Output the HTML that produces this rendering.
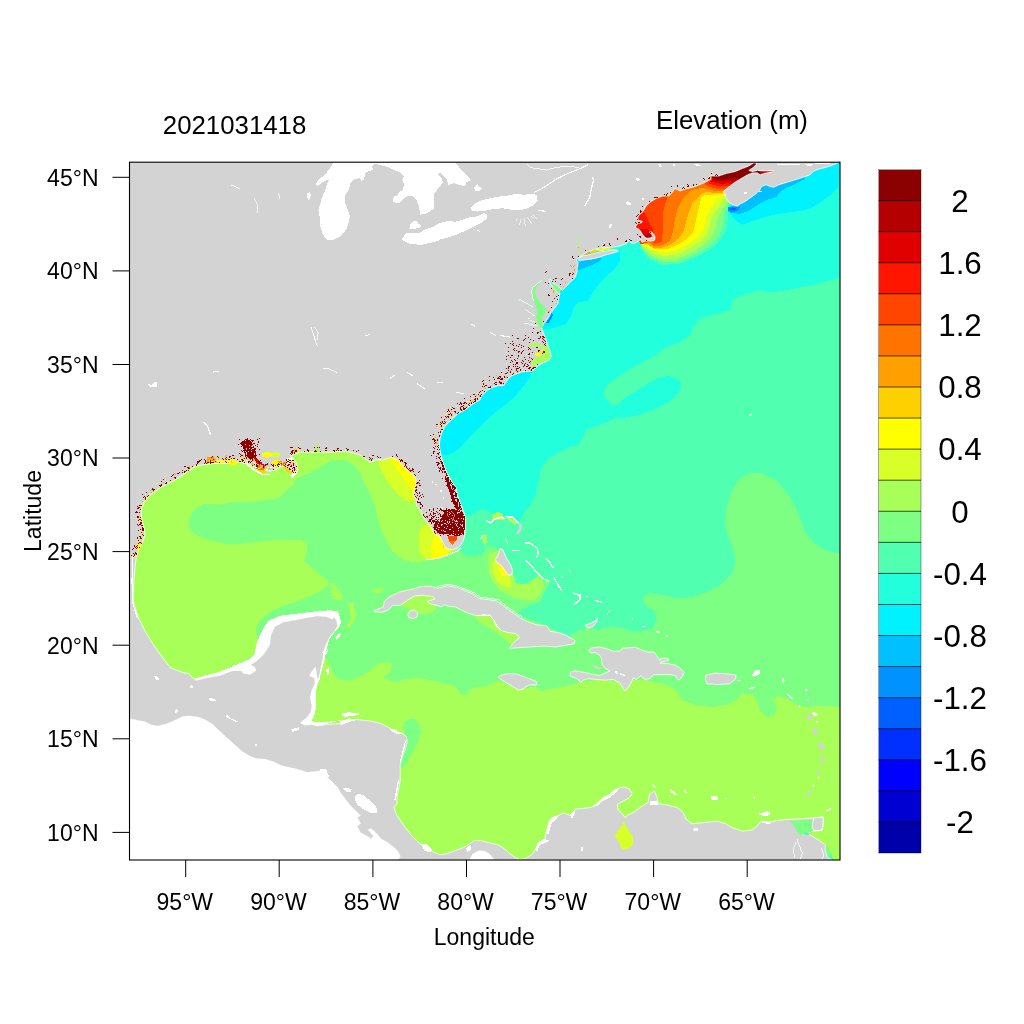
<!DOCTYPE html><html><head><meta charset="utf-8"><title>Elevation map</title>
<style>html,body{margin:0;padding:0;background:#fff}svg{display:block}text{font-family:"Liberation Sans",Arial,Helvetica,sans-serif;fill:#000}</style></head><body>
<svg width="1024" height="1024" viewBox="0 0 1024 1024">
<rect width="1024" height="1024" fill="#fff"/>
<defs><clipPath id="pc"><rect x="129.5" y="162.2" width="710.5" height="697.8"/></clipPath></defs>
<g clip-path="url(#pc)" shape-rendering="crispEdges">
<rect x="129.5" y="162.2" width="710.5" height="697.8" fill="#22FFDD"/>
<polygon fill="#50FFAF" points="840.0,277.5 827.0,281.2 807.0,286.2 787.0,290.0 769.5,292.5 759.5,290.0 742.0,295.0 732.0,300.0 730.8,310.0 717.0,313.8 702.0,317.5 693.0,326.0 689.7,336.2 678.8,342.5 666.2,347.2 653.8,356.6 641.2,362.8 628.8,369.8 617.8,376.9 608.4,383.9 603.0,392.5 606.9,400.3 613.1,405.8 619.4,403.4 625.6,397.2 635.0,391.7 644.4,386.2 653.8,380.0 661.6,376.9 669.4,376.1 677.2,378.4 681.6,383.9 678.8,392.5 670.9,400.3 661.6,405.8 650.6,410.5 638.1,415.2 625.6,417.5 614.7,418.3 606.9,422.2 595.9,426.1 586.6,429.2 583.4,436.2 578.8,444.8 569.4,447.2 560.0,451.9 548.5,458.5 541.0,468.5 538.5,481.0 536.0,493.5 531.0,503.5 523.5,513.5 519.8,522.0 510.0,518.0 500.0,516.0 493.5,515.0 488.5,511.2 482.2,508.8 477.2,511.2 471.0,515.0 465.4,516.2 440.0,500.0 129.0,400.0 129.0,860.0 840.0,860.0"/>
<polygon fill="#00F2FF" points="726.0,205.0 728.8,212.0 736.2,221.0 742.5,224.8 752.5,221.0 763.8,217.2 776.2,214.1 790.0,212.2 801.2,211.0 810.0,208.5 818.8,203.5 827.5,197.2 835.0,191.0 838.8,186.0 840.0,183.5 840.0,162.0 760.0,162.0 730.0,190.0"/>
<polygon fill="#00C0FF" points="732.5,206.0 726.2,208.5 728.8,212.2 738.8,214.1 748.8,211.0 757.5,204.8 767.5,199.8 776.2,197.2 780.0,192.2 785.0,188.5 795.0,184.1 805.0,179.1 805.0,170.0 760.0,180.0 735.0,200.0"/>
<polygon fill="#0093FF" points="727.0,207.5 733.0,206.5 740.0,207.5 738.0,211.0 731.0,212.0 727.5,210.0"/>
<polygon fill="#0060FF" points="728.0,208.0 733.0,207.3 736.5,208.8 732.0,210.6"/>
<polygon fill="#00F2FF" points="620.0,250.0 620.0,261.0 615.0,268.8 607.5,275.0 600.0,282.5 593.0,292.0 588.0,300.5 578.0,302.5 573.0,308.5 571.2,316.5 566.0,324.0 558.0,326.5 550.0,329.0 543.0,329.0 540.0,322.0 550.0,300.0 560.0,285.0 575.0,262.0 580.0,255.0 600.0,250.0"/>
<polygon fill="#00C0FF" points="578.1,262.5 583.8,260.6 592.5,259.4 601.9,257.5 600.0,261.2 592.5,265.0 585.0,267.5 578.1,270.6 574.0,268.0"/>
<polygon fill="#0093FF" points="551.5,313.0 549.0,318.0 546.0,322.5 548.0,323.5 551.5,319.0 553.0,315.0"/>
<polygon fill="#00F2FF" points="531.9,371.5 530.0,377.5 526.2,382.5 521.2,388.8 516.2,395.0 512.5,398.8 505.0,405.0 495.0,412.5 487.5,418.8 480.0,426.2 472.5,433.8 466.2,441.2 460.0,447.5 453.8,452.5 447.5,455.0 441.9,455.0 435.0,440.0 445.0,420.0 470.0,400.0 500.0,380.0 520.0,365.0"/>
<polygon fill="#50FFAF" points="727.5,208.0 727.5,212.2 727.5,221.0 726.2,229.8 722.5,237.2 717.5,243.5 708.8,250.4 696.2,257.2 678.8,264.1 661.2,264.8 647.5,257.9 640.6,247.9 641.0,244.5 637.0,238.0 628.0,233.0 640.0,200.0 700.0,170.0 760.0,160.0 790.0,170.0 745.0,190.0"/>
<polygon fill="#7CFF83" points="729.0,204.5 727.5,206.9 725.0,211.0 723.8,218.5 722.5,226.0 720.0,233.5 715.0,241.0 707.5,247.2 695.0,254.8 678.8,261.6 662.5,262.2 648.8,256.0 641.2,247.2 641.0,244.5 637.0,238.0 628.0,233.0 640.0,200.0 700.0,170.0 760.0,160.0 790.0,170.0 745.0,190.0"/>
<polygon fill="#A8FF57" points="728.3,201.0 725.9,203.8 722.5,208.5 718.8,216.0 716.2,223.5 715.0,229.8 711.2,237.2 703.8,244.8 692.5,252.2 677.5,258.5 662.5,259.8 650.0,254.8 642.5,247.2 641.0,244.5 637.0,238.0 628.0,233.0 640.0,200.0 700.0,170.0 760.0,160.0 790.0,170.0 745.0,190.0"/>
<polygon fill="#D8FF27" points="725.9,198.3 722.8,200.6 720.0,206.0 715.0,211.0 711.2,218.5 710.0,226.0 707.5,233.5 701.2,241.0 690.0,247.9 676.2,254.8 662.5,256.0 651.2,252.2 643.1,245.4 641.0,244.5 637.0,238.0 628.0,233.0 640.0,200.0 700.0,170.0 760.0,160.0 790.0,170.0 745.0,190.0"/>
<polygon fill="#FFFF00" points="725.2,195.9 722.8,196.7 716.6,199.1 710.0,208.5 706.2,217.2 705.0,223.5 703.8,229.8 697.5,237.2 687.5,244.8 675.0,251.0 661.2,252.2 651.2,248.5 643.8,243.5 641.0,244.5 637.0,238.0 628.0,233.0 640.0,200.0 700.0,170.0 760.0,160.0 790.0,170.0 745.0,190.0"/>
<polygon fill="#FFD000" points="724.8,193.6 721.2,194.0 715.0,194.4 708.0,194.8 701.7,195.9 697.5,213.5 695.0,223.5 693.8,231.0 687.5,238.5 677.5,244.8 667.5,249.1 655.0,249.1 645.0,243.5 641.0,244.5 637.0,238.0 628.0,233.0 640.0,200.0 700.0,170.0 760.0,160.0 790.0,170.0 745.0,190.0"/>
<polygon fill="#FFA000" points="724.4,192.4 719.7,192.8 713.4,192.8 707.2,192.0 702.0,193.3 698.0,197.0 692.5,203.5 688.8,212.2 686.2,221.0 683.8,231.0 678.8,238.5 670.0,244.8 661.2,247.9 653.8,247.9 647.5,243.5 641.0,244.5 637.0,238.0 628.0,233.0 640.0,200.0 700.0,170.0 760.0,160.0 790.0,170.0 745.0,190.0"/>
<polygon fill="#FF7300" points="724.4,190.9 721.2,191.2 715.0,190.9 708.8,189.3 702.5,188.1 696.2,188.9 690.0,191.0 682.5,198.5 677.5,208.5 675.0,218.5 673.8,226.0 672.5,233.5 670.0,241.0 662.5,245.4 653.8,246.0 648.8,242.2 641.0,244.5 637.0,238.0 628.0,233.0 640.0,200.0 700.0,170.0 760.0,160.0 790.0,170.0 745.0,190.0"/>
<polygon fill="#FF4500" points="667.5,197.2 663.8,208.5 662.5,221.0 662.5,233.5 661.9,242.2 655.0,243.5 650.0,241.0 641.0,244.5 637.0,238.0 625.0,225.0 650.0,195.0 668.0,195.0"/>
<polygon fill="#FF1500" points="643.8,212.2 647.5,218.5 651.2,226.0 653.8,232.2 655.0,237.2 648.8,238.5 638.8,231.0 632.5,226.0 635.0,216.0"/>
<polygon fill="#E10000" points="640.5,229.2 643.4,228.7 647.3,229.2 650.0,231.6 652.0,234.0 650.0,238.0 645.4,237.0 643.4,235.0 641.5,232.1 636.0,230.0"/>
<polygon fill="#B40000" points="644.4,237.0 645.4,235.5 647.3,234.0 649.5,232.8 651.5,234.3 652.9,236.5 650.3,238.5 647.3,239.0"/>
<polygon fill="#FF4500" points="704.8,184.2 709.5,186.6 715.8,188.5 721.2,188.9 726.7,188.5 748.0,186.0 790.0,176.0 790.0,160.0 720.0,160.0"/>
<polygon fill="#FF1500" points="708.8,183.4 713.4,185.0 719.7,186.2 725.2,186.2 729.0,186.2 748.0,186.0 790.0,176.0 790.0,160.0 720.0,160.0"/>
<polygon fill="#E10000" points="711.1,181.9 715.8,183.0 721.2,183.8 727.5,183.4 732.2,183.8 748.0,186.0 790.0,176.0 790.0,160.0 720.0,160.0"/>
<polygon fill="#B40000" points="712.7,179.9 718.1,181.1 724.4,181.5 730.6,181.1 735.3,181.5 748.0,186.0 790.0,176.0 790.0,160.0 720.0,160.0"/>
<polygon fill="#8B0000" points="711.9,177.6 717.3,178.8 723.6,179.1 730.6,178.8 736.9,178.4 740.8,178.8 748.0,186.0 790.0,176.0 790.0,160.0 720.0,160.0"/>
<polygon fill="#B40000" points="759.5,169.0 776.0,169.0 776.0,174.5 759.5,174.5"/>
<polygon fill="#E10000" points="763.4,169.0 776.0,169.0 776.0,173.5 763.4,173.5"/>
<polygon fill="#FF1500" points="767.0,169.5 776.0,169.5 776.0,173.0 767.0,173.0"/>
<polygon fill="#7CFF83" points="840.0,553.5 827.0,551.0 814.5,543.5 804.5,531.0 798.2,513.5 789.5,496.0 777.0,481.0 762.0,473.5 749.5,473.0 739.5,478.5 732.0,491.0 727.0,506.0 725.0,523.5 728.2,536.0 733.2,548.5 735.8,561.0 732.0,573.5 722.0,583.5 707.0,592.2 692.0,597.2 677.0,598.5 662.0,594.8 649.5,593.0 642.0,598.5 645.8,606.0 654.5,611.0 657.0,619.8 652.0,628.6 641.2,631.0 630.3,631.0 622.5,627.8 611.6,626.2 599.0,629.4 588.0,627.8 578.8,630.2 569.4,635.6 574.0,640.0 545.0,625.0 517.2,614.0 521.9,609.4 531.2,604.7 540.6,601.6 543.8,593.8 550.0,582.0 543.8,578.1 539.0,575.0 510.0,575.0 500.0,550.0 496.9,548.4 489.0,545.3 486.0,546.9 482.8,554.7 473.4,556.2 465.6,555.5 461.0,551.6 458.0,548.0 450.0,520.0 430.0,440.0 129.0,440.0 129.0,860.0 840.0,860.0"/>
<polygon fill="#A8FF57" points="296.2,478.5 292.5,486.0 285.0,491.0 280.0,497.2 267.5,499.8 250.0,502.2 232.5,502.2 217.5,504.8 205.0,503.5 195.0,508.5 189.5,518.5 188.8,528.5 195.0,534.8 207.5,539.8 225.0,543.5 245.0,543.5 265.0,541.0 282.5,539.8 300.0,539.8 307.5,542.2 306.2,553.5 303.8,561.0 312.5,568.5 322.5,576.0 328.8,581.0 327.5,586.0 320.0,591.0 310.0,596.0 295.0,602.2 280.0,607.2 271.0,611.5 263.0,617.5 258.0,624.0 255.5,630.0 259.0,640.0 257.0,650.0 250.0,658.0 240.0,663.0 230.0,667.0 200.0,690.0 129.0,700.0 129.0,440.0 300.0,440.0"/>
<polygon fill="#A8FF57" points="296.2,478.5 305.0,474.8 317.5,468.5 332.5,459.8 345.0,459.8 355.0,466.0 360.0,473.5 366.2,486.0 372.5,498.5 376.0,510.0 378.5,522.5 383.5,535.0 389.8,547.5 397.2,556.2 407.2,561.2 418.5,562.5 426.0,560.6 431.0,559.4 438.5,558.1 446.0,555.0 451.0,552.5 457.2,551.2 455.0,540.0 430.0,440.0 300.0,440.0"/>
<polygon fill="#A8FF57" points="330.0,583.5 334.0,583.0 342.0,598.0 340.0,602.0 336.0,597.0"/>
<polygon fill="#A8FF57" points="347.5,603.5 352.0,604.0 356.0,614.0 353.0,622.0 348.0,628.0 346.0,627.0 351.0,617.0 350.5,610.0"/>
<polygon fill="#A8FF57" points="330.0,590.0 339.4,590.0 343.3,597.8 339.4,600.2 333.1,598.6 331.6,593.1"/>
<polygon fill="#A8FF57" points="348.0,603.3 353.4,602.5 355.8,613.4 353.4,622.8 348.8,629.1 346.4,629.1 350.3,619.7 349.5,610.3"/>
<polygon fill="#A8FF57" points="323.0,657.0 327.5,660.0 331.0,668.0 335.0,676.5 341.5,680.5 351.0,680.0 361.0,676.0 370.0,671.5 374.0,666.2 380.3,663.1 388.1,662.3 392.0,664.7 389.7,672.5 383.4,677.2 389.7,680.3 396.0,681.9 405.3,679.5 414.7,678.0 425.6,678.8 435.0,681.1 444.4,683.4 453.8,685.8 458.4,689.7 460.0,694.4 466.2,695.2 469.4,689.7 477.2,687.3 485.0,686.6 492.8,683.4 497.5,680.3 520.0,690.0 536.0,686.2 541.0,691.2 551.0,688.8 566.0,686.2 581.0,682.5 596.0,680.0 611.0,680.0 621.0,683.8 626.0,690.0 632.0,680.0 647.5,680.5 656.9,682.5 666.2,684.8 674.0,688.8 678.8,695.0 683.4,700.5 697.0,705.5 712.0,707.0 727.0,705.0 737.0,700.0 742.0,693.8 752.0,693.8 757.0,700.0 759.5,710.0 767.0,717.5 774.5,715.0 777.0,707.5 773.2,698.8 779.5,696.2 789.5,700.0 797.0,705.0 807.0,707.5 819.5,705.5 832.0,706.2 840.0,707.5 840.0,860.0 300.0,860.0 300.0,700.0"/>
<polygon fill="#7CFF83" points="408.8,719.5 414.2,719.0 419.7,725.0 421.2,732.8 418.1,742.2 413.4,751.6 408.8,759.4 404.0,767.2 399.0,769.0 399.0,760.0 402.0,750.0 404.0,740.0 404.0,730.0 404.0,722.0"/>
<polygon fill="#D8FF27" points="378.5,462.5 381.0,470.0 386.0,478.8 392.2,487.5 398.5,495.0 404.8,500.0 409.8,502.5 414.8,501.2 420.0,490.0 415.0,460.0 380.0,450.0"/>
<polygon fill="#FFFF00" points="389.8,460.0 393.5,465.0 398.5,471.2 403.5,478.8 408.5,485.0 412.9,491.2 414.8,488.8 420.0,480.0 410.0,460.0 395.0,455.0"/>
<polygon fill="#D8FF27" points="418.5,535.0 421.0,527.5 426.0,523.8 435.0,525.0 455.0,540.0 451.0,552.5 446.0,555.0 438.5,558.1 431.0,559.4 426.0,560.0 421.0,555.0 418.5,547.5"/>
<polygon fill="#FFFF00" points="434.8,535.0 432.2,541.2 431.0,550.0 432.2,559.4 438.5,558.1 446.0,555.0 449.8,551.2 452.0,540.0 445.0,530.0"/>
<polygon fill="#FFD000" points="441.5,539.0 444.0,540.0 445.5,547.0 443.0,546.5"/>
<polygon fill="#A8FF57" points="488.3,554.7 495.3,551.6 501.6,550.0 512.5,571.9 515.6,582.8 523.4,584.4 531.2,581.2 537.5,576.6 542.2,579.7 543.8,584.4 540.6,593.8 534.4,600.0 525.0,600.0 512.5,596.9 500.0,590.6 492.2,581.2 488.3,570.3"/>
<polygon fill="#D8FF27" points="492.2,562.5 496.9,560.2 503.1,562.5 510.2,575.0 510.9,587.5 503.1,585.9 496.9,581.2 493.0,573.4"/>
<polygon fill="#FFFF00" points="499.2,564.8 502.3,564.1 506.2,570.3 506.2,576.6 501.6,575.8 499.2,570.3"/>
<polygon fill="#50FFAF" points="512.5,571.9 515.6,582.8 523.4,584.4 531.2,581.2 537.5,576.6 531.2,568.8 525.0,562.5 518.8,557.8 512.5,556.2"/>
<polygon fill="#A8FF57" points="481.2,535.2 486.7,534.4 487.5,540.6 485.2,545.3 482.0,540.6"/>
<polygon fill="#A8FF57" points="492.2,514.8 496.9,511.7 502.3,513.3 503.9,519.5 496.9,520.3 492.2,519.5"/>
<polygon fill="#A8FF57" points="504.7,516.4 512.5,517.2 517.2,521.9 515.6,525.0 509.4,521.1"/>
<polygon fill="#A8FF57" points="474.1,614.7 485.0,614.7 490.5,613.9 495.2,620.2 496.7,624.8 501.4,629.5 509.2,631.9 517.0,633.4 519.4,638.1 510.0,644.4 503.8,638.1 495.9,631.9 488.1,627.2 480.3,622.5 476.4,619.4"/>
<polygon fill="#A8FF57" points="399.8,604.5 406.9,599.8 414.7,595.2 422.5,594.7 434.2,596.2 435.8,599.1 428.0,601.4 431.1,603.4 436.6,605.6 435.3,610.0 430.3,613.1 422.5,614.7 418.6,613.1 414.7,609.7 410.0,610.3 405.3,607.7"/>
<polygon fill="#A8FF57" points="372.0,591.5 375.0,589.0 381.0,587.8 384.0,589.5 381.0,592.5 375.0,593.5"/>
<polygon fill="#FFFFFF" points="129.0,700.0 200.0,700.0 260.0,740.0 330.0,760.0 350.0,790.0 375.0,800.0 385.0,830.0 420.0,860.0 129.0,860.0"/>
<polygon fill="#FFFFFF" points="195.3,678.3 206.2,675.2 218.8,672.0 230.0,667.3 239.4,663.4 248.8,659.5 255.0,654.0 255.8,646.2 259.7,635.3 263.6,627.5 269.0,620.5 280.0,615.8 292.5,614.2 305.0,612.7 317.5,611.1 330.0,610.3 337.8,611.1 340.2,617.3 340.9,622.8 337.8,629.0 333.1,633.8 329.2,640.0 326.9,647.8 325.3,655.6 323.8,663.4 321.4,671.2 319.8,679.0 316.7,686.9 315.9,696.2 315.9,705.6 315.2,713.4 311.2,721.2 318.0,722.5 330.0,721.5 345.0,719.5 300.0,730.0 290.0,680.0 280.0,650.0 250.0,680.0 200.0,686.0"/>
<polygon fill="#FFA000" points="583.1,255.4 585.6,253.5 590.0,251.2 590.6,252.8 586.9,254.6 584.4,255.9"/>
<polygon fill="#FFD000" points="590.0,251.2 596.2,249.4 597.5,251.2 593.8,252.8 590.6,252.8"/>
<polygon fill="#FFFF00" points="596.2,249.4 605.0,248.1 605.0,250.4 597.5,251.2"/>
<polygon fill="#D8FF27" points="605.0,248.1 610.0,248.1 610.0,250.4 605.0,250.4"/>
<polygon fill="#7CFF83" points="610.0,248.1 617.5,249.4 615.0,250.4 610.0,250.4"/>
<polygon fill="#FFFFFF" points="468.0,861.0 472.8,853.9 479.0,850.8 485.3,851.6 490.0,854.7 495.0,861.0"/>
<polygon fill="#7CFF83" points="824.5,846.0 827.5,845.5 833.0,857.0 834.0,861.0 827.0,861.0 826.0,853.0"/>
<polygon fill="#50FFAF" points="828.0,855.0 831.0,854.5 834.0,861.0 828.5,861.0"/>
<polygon fill="#D3D3D3" points="129.0,162.0 839.0,162.0 836.2,163.8 830.0,166.0 823.8,167.9 818.8,169.1 813.8,171.0 810.0,174.8 805.0,176.6 797.5,179.1 791.2,181.0 785.0,182.9 778.8,184.8 773.8,187.2 770.0,186.6 766.2,184.8 761.2,186.6 760.0,189.8 756.2,193.5 751.2,197.2 745.0,201.6 740.0,204.1 737.5,206.0 732.5,204.8 729.4,202.2 726.2,198.5 725.0,193.5 723.1,192.2 725.0,189.8 730.0,186.0 735.0,182.2 741.2,178.5 747.5,174.8 752.5,172.9 757.5,172.9 760.0,174.8 763.8,173.5 773.8,171.6 773.8,170.8 761.2,170.8 757.5,170.4 752.5,171.6 748.8,170.4 752.5,167.9 756.2,164.8 756.2,162.9 753.8,162.9 748.8,166.0 742.5,168.5 735.0,171.6 726.2,173.5 718.8,176.0 712.5,176.0 709.4,176.0 711.2,179.1 707.5,181.0 701.2,184.1 695.0,186.6 690.0,187.9 685.0,189.1 680.0,191.0 675.0,188.5 672.5,192.2 668.8,196.0 662.5,196.0 656.2,198.5 650.0,202.2 646.2,206.0 642.5,212.2 639.0,215.0 637.6,218.4 639.0,220.4 642.5,221.3 641.5,222.8 638.6,223.3 636.6,224.8 635.6,226.7 636.1,228.2 639.0,229.2 640.5,231.1 642.0,233.6 643.4,235.5 644.4,237.0 647.3,238.4 650.3,237.9 652.7,236.5 651.7,234.5 650.3,233.1 649.3,232.1 651.7,231.9 653.9,234.3 655.0,237.0 655.0,239.6 653.7,240.8 649.3,241.0 645.4,241.0 642.0,242.3 640.5,239.5 638.6,241.4 636.1,242.3 633.7,243.3 631.2,243.3 629.8,240.4 627.8,241.4 626.3,243.8 622.9,244.8 620.0,246.0 615.0,246.9 607.5,247.5 600.0,248.1 593.8,249.4 587.5,251.9 582.5,255.0 578.0,258.0 576.2,260.0 578.1,262.5 577.5,267.5 576.9,272.5 575.0,277.5 570.0,282.5 565.0,287.5 562.5,290.5 560.0,288.0 556.2,285.0 552.5,283.0 550.0,278.8 549.0,279.5 551.0,284.5 554.0,288.5 557.5,292.5 560.0,293.0 558.8,297.5 558.1,303.8 555.0,307.5 551.2,312.5 547.5,318.8 543.8,323.8 541.9,327.5 541.9,328.8 543.8,333.8 546.2,340.0 548.1,346.2 550.0,351.2 551.2,356.2 549.4,360.0 543.8,362.5 538.8,365.0 535.0,368.8 531.9,371.2 528.8,371.2 522.5,371.9 516.2,373.8 511.2,376.2 507.5,380.0 505.0,383.8 503.8,385.6 498.8,385.6 492.5,387.5 487.5,390.0 483.8,393.8 481.2,396.2 480.0,400.0 475.0,402.5 470.0,406.2 465.0,410.0 458.8,413.1 453.8,417.5 448.8,422.5 445.0,426.2 441.9,432.5 440.0,438.8 439.4,445.0 440.0,450.0 441.2,456.2 443.1,462.5 445.6,470.0 448.8,476.2 452.5,482.5 456.0,487.5 457.2,495.0 459.8,501.2 462.2,507.5 464.1,512.5 465.4,518.8 465.4,527.5 464.8,535.0 463.5,540.0 461.0,545.0 457.2,548.1 452.2,549.4 447.2,548.8 444.8,546.2 442.2,541.2 439.8,536.2 436.0,534.4 433.5,532.5 431.6,527.5 428.5,523.8 426.0,521.2 423.5,517.5 421.6,512.5 418.5,507.5 416.0,503.8 416.6,500.0 414.8,497.5 413.5,493.8 414.8,488.8 416.0,483.8 416.0,478.8 413.5,475.0 409.8,472.5 406.0,468.8 402.2,465.0 398.5,460.0 391.0,457.2 383.5,459.8 376.0,459.8 370.0,462.2 360.0,454.8 345.0,451.0 332.5,452.2 320.0,452.2 300.0,452.2 290.0,456.0 296.0,462.0 298.0,470.0 295.0,474.0 290.0,471.0 285.0,468.0 282.5,466.0 275.0,470.0 270.0,471.0 260.0,469.8 250.0,464.8 240.0,462.2 227.5,463.5 215.0,463.5 202.5,464.8 195.0,466.5 190.0,470.0 175.0,480.0 162.5,486.2 150.0,495.0 143.8,502.5 141.2,511.2 141.9,520.0 144.4,528.8 145.0,535.0 142.5,542.5 138.8,550.0 136.2,557.5 135.0,567.5 133.8,582.5 133.1,598.0 133.8,603.5 138.8,618.5 145.0,631.0 152.5,643.5 160.0,654.0 170.0,667.5 182.5,672.5 189.0,673.6 192.2,677.5 196.1,680.3 207.8,677.5 220.3,675.2 232.8,670.5 241.4,670.5 243.0,673.1 250.0,674.4 255.9,670.5 254.7,667.3 250.0,665.0 256.2,661.1 262.5,655.6 266.4,650.2 269.5,644.7 270.6,635.3 274.5,626.7 283.1,622.0 295.6,619.7 308.1,617.3 317.5,615.8 326.9,616.6 331.6,618.9 334.7,617.3 337.0,621.2 337.8,625.9 334.7,631.4 330.0,636.9 326.1,644.7 323.8,651.7 323.0,658.8 321.4,666.6 319.1,677.5 317.5,679.8 315.9,671.2 315.2,667.3 311.2,672.8 309.7,675.9 314.4,677.5 315.2,683.8 312.0,690.0 310.5,697.8 312.0,705.6 311.2,711.9 306.6,718.1 300.3,722.8 305.0,725.2 311.2,724.4 317.5,725.9 326.9,724.4 339.4,723.6 349.4,721.1 355.6,719.5 363.4,720.3 371.2,721.1 380.6,723.4 388.4,727.3 394.7,731.2 402.5,733.6 406.4,736.7 407.2,742.2 404.8,750.0 402.5,756.2 400.2,764.0 400.2,771.9 400.2,781.2 398.6,789.0 397.0,796.9 397.0,803.1 393.9,807.8 396.2,814.0 400.2,820.3 405.6,828.1 411.9,835.9 418.1,842.2 424.4,846.9 429.0,848.4 433.8,852.3 440.0,854.7 446.2,853.9 452.5,851.6 458.8,849.2 465.0,846.9 469.7,843.8 474.4,840.6 480.6,840.6 486.9,842.2 493.1,843.8 496.2,844.2 502.5,847.3 508.8,852.8 515.0,857.5 519.7,859.5 525.9,858.3 532.2,854.4 536.1,848.1 540.0,841.9 544.7,840.3 546.2,832.5 549.4,821.6 552.5,817.7 558.8,815.3 563.4,813.0 569.7,815.3 572.8,815.3 575.2,809.1 583.8,808.3 591.6,807.5 597.8,802.8 602.5,798.1 608.8,795.0 615.0,789.5 622.8,786.9 629.0,788.8 632.2,793.4 629.0,798.1 622.8,801.2 617.3,804.4 618.1,809.8 622.8,814.5 625.2,817.7 627.5,815.3 633.8,812.2 642.0,806.2 648.2,802.5 649.5,793.8 654.5,791.2 657.0,797.5 658.2,803.8 667.0,805.0 677.0,807.5 683.2,812.5 685.8,818.8 692.0,823.8 704.5,822.5 717.0,821.2 725.8,823.8 732.0,827.5 742.0,831.2 752.0,830.0 757.0,826.2 761.2,821.2 771.2,821.9 776.2,820.6 787.5,819.4 802.0,818.8 812.0,818.0 823.2,817.0 823.2,822.5 822.0,830.0 812.0,831.2 807.0,833.8 812.0,836.0 820.0,841.0 825.6,845.0 825.0,850.0 827.5,857.5 832.0,860.0 494.0,860.0 490.0,854.7 485.3,851.6 479.0,850.8 472.8,853.9 469.7,860.0 397.8,860.0 400.2,856.2 397.8,851.6 393.1,846.9 386.9,842.2 380.6,839.0 377.5,834.4 371.2,828.9 368.1,829.7 373.6,835.9 371.2,839.0 366.6,835.9 360.3,832.8 357.2,826.6 360.3,823.4 357.2,817.2 360.3,815.6 355.6,810.9 349.4,804.7 344.7,798.4 340.0,792.2 337.5,787.5 327.5,777.5 325.0,770.0 320.0,771.2 307.5,772.5 295.0,768.8 285.0,766.6 281.2,765.8 273.4,761.9 265.6,759.5 256.2,758.8 250.0,756.4 242.2,751.7 234.4,744.7 226.6,737.7 218.8,730.6 212.5,724.4 206.2,720.5 198.4,717.3 190.6,716.2 182.8,716.6 175.0,720.5 165.6,724.4 157.8,726.2 151.6,725.2 145.3,722.0 137.5,720.5 129.7,718.9 129.0,718.5"/>
<polygon fill="#D3D3D3" points="578.8,260.6 585.0,259.8 592.5,258.8 600.0,256.9 607.5,254.4 615.0,252.5 618.8,251.2 615.0,250.0 607.5,250.6 600.0,251.9 592.5,253.8 587.5,255.0 582.5,255.9 579.0,258.0"/>
<polygon fill="#D3D3D3" points="374.1,610.8 383.4,606.9 384.2,601.4 389.7,596.7 399.1,592.0 410.0,589.7 420.9,586.6 430.3,586.2 438.1,588.1 447.5,585.8 456.9,587.3 466.2,591.2 474.1,594.4 478.8,598.5 488.1,599.6 496.5,600.8 502.5,605.0 508.5,609.7 514.6,613.8 520.3,618.0 528.1,621.9 537.5,625.0 546.9,625.8 550.0,631.2 559.4,632.8 567.2,635.9 575.0,640.6 574.2,643.8 565.6,645.3 556.2,646.9 543.8,646.1 531.2,646.9 518.8,647.7 509.4,648.4 512.5,643.8 519.5,637.5 516.2,633.6 508.4,632.7 500.6,630.3 495.9,625.6 494.4,620.9 489.7,614.7 485.0,615.5 475.6,615.5 467.8,613.1 461.6,610.0 455.3,606.9 447.5,606.1 444.4,604.5 441.2,606.9 436.6,605.3 430.3,603.8 427.2,601.4 435.0,599.1 433.4,596.7 422.5,595.2 414.7,595.9 406.9,600.6 400.6,605.3 392.8,605.3 388.1,610.0 381.9,612.3 374.1,611.8"/>
<polygon fill="#D3D3D3" points="407.7,614.7 410.0,610.8 414.7,610.0 417.8,613.1 417.0,617.0 413.1,618.6 409.2,617.8"/>
<polygon fill="#D3D3D3" points="588.9,650.5 591.2,648.1 599.1,646.9 606.9,648.9 613.1,651.2 620.2,651.2 622.5,648.1 628.8,647.8 635.0,647.3 641.2,649.7 647.5,652.0 653.8,652.0 656.9,655.9 660.0,660.6 660.8,658.3 667.8,658.3 668.6,660.6 661.6,661.9 660.0,663.0 669.4,663.8 675.6,665.3 680.3,668.4 684.2,672.3 681.9,677.0 678.8,680.2 676.4,677.8 675.6,675.5 669.4,674.7 661.6,674.7 653.8,674.7 649.8,678.6 644.4,679.4 641.2,675.5 636.6,679.4 633.4,677.8 630.3,684.1 627.2,688.8 624.8,691.1 622.5,687.2 619.4,682.5 613.1,679.4 605.3,680.2 595.9,679.4 588.1,678.6 583.4,680.2 580.3,682.5 577.2,678.6 570.2,676.2 570.2,672.3 574.8,670.8 583.4,672.3 591.2,673.9 599.1,675.5 605.3,673.1 610.0,670.8 605.3,668.4 602.2,664.5 601.4,658.3 599.8,655.2 595.9,652.8 590.5,652.8"/>
<polygon fill="#D3D3D3" points="592.0,665.3 597.5,666.1 600.9,668.4 599.8,669.7 595.2,668.4"/>
<polygon fill="#D3D3D3" points="498.5,676.2 506.0,673.8 516.0,673.8 526.0,677.5 536.0,681.2 537.2,685.0 528.5,685.0 523.5,688.8 518.5,690.0 512.2,686.2 503.5,681.2 498.5,677.5"/>
<polygon fill="#D3D3D3" points="705.8,675.0 714.5,673.2 727.0,673.8 735.8,675.0 735.8,678.8 729.5,683.8 717.0,684.5 707.0,683.8 705.2,678.8"/>
<polygon fill="#D3D3D3" points="500.0,548.4 503.1,550.0 506.2,557.8 510.2,564.0 512.5,570.3 511.7,575.0 507.8,575.0 504.7,570.3 501.6,565.6 496.9,562.5 495.3,559.4 498.4,554.7"/>
<polygon fill="#D3D3D3" points="585.2,625.0 590.6,623.4 596.1,620.3 597.7,617.2 596.9,621.9 593.0,626.6 587.5,628.1"/>
<polygon fill="#D3D3D3" points="813.8,818.0 823.2,817.0 823.5,824.0 822.0,830.5 814.0,831.0 812.0,826.0"/>
<polygon fill="#D3D3D3" points="811.7,717.2 811.3,719.5 810.2,721.0 808.9,721.0 807.8,719.5 807.3,717.2 807.8,714.8 808.9,713.4 810.2,713.4 811.3,714.8"/>
<polygon fill="#D3D3D3" points="817.2,730.9 817.2,733.4 816.4,735.1 815.0,735.3 813.7,734.0 812.8,731.6 812.8,729.1 813.6,727.4 815.0,727.2 816.3,728.5"/>
<polygon fill="#D3D3D3" points="823.6,744.7 824.7,747.1 824.7,749.2 823.4,750.0 821.4,749.4 819.5,747.5 818.4,745.1 818.5,743.0 819.7,742.1 821.7,742.8"/>
<polygon fill="#D3D3D3" points="824.3,760.0 823.6,762.0 822.5,763.2 821.4,763.0 820.7,761.5 820.7,759.4 821.4,757.4 822.5,756.2 823.6,756.4 824.3,757.9"/>
<polygon fill="#D3D3D3" points="819.6,772.2 819.3,773.5 818.6,774.3 817.7,774.3 816.9,773.5 816.6,772.2 816.9,770.9 817.7,770.1 818.6,770.1 819.3,770.9"/>
<polygon fill="#D3D3D3" points="810.7,794.2 809.7,795.4 808.5,795.9 807.5,795.4 807.1,794.2 807.4,792.7 808.4,791.4 809.6,791.0 810.6,791.4 811.0,792.7"/>
<polygon fill="#D3D3D3" points="807.9,689.8 807.6,691.0 806.9,691.7 805.9,691.7 805.2,691.0 804.9,689.8 805.2,688.7 805.9,687.9 806.9,687.9 807.6,688.7"/>
<polygon fill="#D3D3D3" points="809.5,700.0 809.1,700.9 808.1,701.4 806.9,701.4 805.9,700.9 805.5,700.0 805.9,699.1 806.9,698.6 808.1,698.6 809.1,699.1"/>
<polygon fill="#D3D3D3" points="518.8,523.4 522.2,524.7 521.1,531.2 517.5,534.7 516.4,532.8 518.8,528.9"/>
<g shape-rendering="geometricPrecision" fill="none" stroke="#fff" stroke-width="0.9" stroke-linejoin="round" stroke-opacity="0.85">
<polygon points="129.0,162.0 839.0,162.0 836.2,163.8 830.0,166.0 823.8,167.9 818.8,169.1 813.8,171.0 810.0,174.8 805.0,176.6 797.5,179.1 791.2,181.0 785.0,182.9 778.8,184.8 773.8,187.2 770.0,186.6 766.2,184.8 761.2,186.6 760.0,189.8 756.2,193.5 751.2,197.2 745.0,201.6 740.0,204.1 737.5,206.0 732.5,204.8 729.4,202.2 726.2,198.5 725.0,193.5 723.1,192.2 725.0,189.8 730.0,186.0 735.0,182.2 741.2,178.5 747.5,174.8 752.5,172.9 757.5,172.9 760.0,174.8 763.8,173.5 773.8,171.6 773.8,170.8 761.2,170.8 757.5,170.4 752.5,171.6 748.8,170.4 752.5,167.9 756.2,164.8 756.2,162.9 753.8,162.9 748.8,166.0 742.5,168.5 735.0,171.6 726.2,173.5 718.8,176.0 712.5,176.0 709.4,176.0 711.2,179.1 707.5,181.0 701.2,184.1 695.0,186.6 690.0,187.9 685.0,189.1 680.0,191.0 675.0,188.5 672.5,192.2 668.8,196.0 662.5,196.0 656.2,198.5 650.0,202.2 646.2,206.0 642.5,212.2 639.0,215.0 637.6,218.4 639.0,220.4 642.5,221.3 641.5,222.8 638.6,223.3 636.6,224.8 635.6,226.7 636.1,228.2 639.0,229.2 640.5,231.1 642.0,233.6 643.4,235.5 644.4,237.0 647.3,238.4 650.3,237.9 652.7,236.5 651.7,234.5 650.3,233.1 649.3,232.1 651.7,231.9 653.9,234.3 655.0,237.0 655.0,239.6 653.7,240.8 649.3,241.0 645.4,241.0 642.0,242.3 640.5,239.5 638.6,241.4 636.1,242.3 633.7,243.3 631.2,243.3 629.8,240.4 627.8,241.4 626.3,243.8 622.9,244.8 620.0,246.0 615.0,246.9 607.5,247.5 600.0,248.1 593.8,249.4 587.5,251.9 582.5,255.0 578.0,258.0 576.2,260.0 578.1,262.5 577.5,267.5 576.9,272.5 575.0,277.5 570.0,282.5 565.0,287.5 562.5,290.5 560.0,288.0 556.2,285.0 552.5,283.0 550.0,278.8 549.0,279.5 551.0,284.5 554.0,288.5 557.5,292.5 560.0,293.0 558.8,297.5 558.1,303.8 555.0,307.5 551.2,312.5 547.5,318.8 543.8,323.8 541.9,327.5 541.9,328.8 543.8,333.8 546.2,340.0 548.1,346.2 550.0,351.2 551.2,356.2 549.4,360.0 543.8,362.5 538.8,365.0 535.0,368.8 531.9,371.2 528.8,371.2 522.5,371.9 516.2,373.8 511.2,376.2 507.5,380.0 505.0,383.8 503.8,385.6 498.8,385.6 492.5,387.5 487.5,390.0 483.8,393.8 481.2,396.2 480.0,400.0 475.0,402.5 470.0,406.2 465.0,410.0 458.8,413.1 453.8,417.5 448.8,422.5 445.0,426.2 441.9,432.5 440.0,438.8 439.4,445.0 440.0,450.0 441.2,456.2 443.1,462.5 445.6,470.0 448.8,476.2 452.5,482.5 456.0,487.5 457.2,495.0 459.8,501.2 462.2,507.5 464.1,512.5 465.4,518.8 465.4,527.5 464.8,535.0 463.5,540.0 461.0,545.0 457.2,548.1 452.2,549.4 447.2,548.8 444.8,546.2 442.2,541.2 439.8,536.2 436.0,534.4 433.5,532.5 431.6,527.5 428.5,523.8 426.0,521.2 423.5,517.5 421.6,512.5 418.5,507.5 416.0,503.8 416.6,500.0 414.8,497.5 413.5,493.8 414.8,488.8 416.0,483.8 416.0,478.8 413.5,475.0 409.8,472.5 406.0,468.8 402.2,465.0 398.5,460.0 391.0,457.2 383.5,459.8 376.0,459.8 370.0,462.2 360.0,454.8 345.0,451.0 332.5,452.2 320.0,452.2 300.0,452.2 290.0,456.0 296.0,462.0 298.0,470.0 295.0,474.0 290.0,471.0 285.0,468.0 282.5,466.0 275.0,470.0 270.0,471.0 260.0,469.8 250.0,464.8 240.0,462.2 227.5,463.5 215.0,463.5 202.5,464.8 195.0,466.5 190.0,470.0 175.0,480.0 162.5,486.2 150.0,495.0 143.8,502.5 141.2,511.2 141.9,520.0 144.4,528.8 145.0,535.0 142.5,542.5 138.8,550.0 136.2,557.5 135.0,567.5 133.8,582.5 133.1,598.0 133.8,603.5 138.8,618.5 145.0,631.0 152.5,643.5 160.0,654.0 170.0,667.5 182.5,672.5 189.0,673.6 192.2,677.5 196.1,680.3 207.8,677.5 220.3,675.2 232.8,670.5 241.4,670.5 243.0,673.1 250.0,674.4 255.9,670.5 254.7,667.3 250.0,665.0 256.2,661.1 262.5,655.6 266.4,650.2 269.5,644.7 270.6,635.3 274.5,626.7 283.1,622.0 295.6,619.7 308.1,617.3 317.5,615.8 326.9,616.6 331.6,618.9 334.7,617.3 337.0,621.2 337.8,625.9 334.7,631.4 330.0,636.9 326.1,644.7 323.8,651.7 323.0,658.8 321.4,666.6 319.1,677.5 317.5,679.8 315.9,671.2 315.2,667.3 311.2,672.8 309.7,675.9 314.4,677.5 315.2,683.8 312.0,690.0 310.5,697.8 312.0,705.6 311.2,711.9 306.6,718.1 300.3,722.8 305.0,725.2 311.2,724.4 317.5,725.9 326.9,724.4 339.4,723.6 349.4,721.1 355.6,719.5 363.4,720.3 371.2,721.1 380.6,723.4 388.4,727.3 394.7,731.2 402.5,733.6 406.4,736.7 407.2,742.2 404.8,750.0 402.5,756.2 400.2,764.0 400.2,771.9 400.2,781.2 398.6,789.0 397.0,796.9 397.0,803.1 393.9,807.8 396.2,814.0 400.2,820.3 405.6,828.1 411.9,835.9 418.1,842.2 424.4,846.9 429.0,848.4 433.8,852.3 440.0,854.7 446.2,853.9 452.5,851.6 458.8,849.2 465.0,846.9 469.7,843.8 474.4,840.6 480.6,840.6 486.9,842.2 493.1,843.8 496.2,844.2 502.5,847.3 508.8,852.8 515.0,857.5 519.7,859.5 525.9,858.3 532.2,854.4 536.1,848.1 540.0,841.9 544.7,840.3 546.2,832.5 549.4,821.6 552.5,817.7 558.8,815.3 563.4,813.0 569.7,815.3 572.8,815.3 575.2,809.1 583.8,808.3 591.6,807.5 597.8,802.8 602.5,798.1 608.8,795.0 615.0,789.5 622.8,786.9 629.0,788.8 632.2,793.4 629.0,798.1 622.8,801.2 617.3,804.4 618.1,809.8 622.8,814.5 625.2,817.7 627.5,815.3 633.8,812.2 642.0,806.2 648.2,802.5 649.5,793.8 654.5,791.2 657.0,797.5 658.2,803.8 667.0,805.0 677.0,807.5 683.2,812.5 685.8,818.8 692.0,823.8 704.5,822.5 717.0,821.2 725.8,823.8 732.0,827.5 742.0,831.2 752.0,830.0 757.0,826.2 761.2,821.2 771.2,821.9 776.2,820.6 787.5,819.4 802.0,818.8 812.0,818.0 823.2,817.0 823.2,822.5 822.0,830.0 812.0,831.2 807.0,833.8 812.0,836.0 820.0,841.0 825.6,845.0 825.0,850.0 827.5,857.5 832.0,860.0 494.0,860.0 490.0,854.7 485.3,851.6 479.0,850.8 472.8,853.9 469.7,860.0 397.8,860.0 400.2,856.2 397.8,851.6 393.1,846.9 386.9,842.2 380.6,839.0 377.5,834.4 371.2,828.9 368.1,829.7 373.6,835.9 371.2,839.0 366.6,835.9 360.3,832.8 357.2,826.6 360.3,823.4 357.2,817.2 360.3,815.6 355.6,810.9 349.4,804.7 344.7,798.4 340.0,792.2 337.5,787.5 327.5,777.5 325.0,770.0 320.0,771.2 307.5,772.5 295.0,768.8 285.0,766.6 281.2,765.8 273.4,761.9 265.6,759.5 256.2,758.8 250.0,756.4 242.2,751.7 234.4,744.7 226.6,737.7 218.8,730.6 212.5,724.4 206.2,720.5 198.4,717.3 190.6,716.2 182.8,716.6 175.0,720.5 165.6,724.4 157.8,726.2 151.6,725.2 145.3,722.0 137.5,720.5 129.7,718.9 129.0,718.5"/>
<polygon points="578.8,260.6 585.0,259.8 592.5,258.8 600.0,256.9 607.5,254.4 615.0,252.5 618.8,251.2 615.0,250.0 607.5,250.6 600.0,251.9 592.5,253.8 587.5,255.0 582.5,255.9 579.0,258.0"/>
<polygon points="374.1,610.8 383.4,606.9 384.2,601.4 389.7,596.7 399.1,592.0 410.0,589.7 420.9,586.6 430.3,586.2 438.1,588.1 447.5,585.8 456.9,587.3 466.2,591.2 474.1,594.4 478.8,598.5 488.1,599.6 496.5,600.8 502.5,605.0 508.5,609.7 514.6,613.8 520.3,618.0 528.1,621.9 537.5,625.0 546.9,625.8 550.0,631.2 559.4,632.8 567.2,635.9 575.0,640.6 574.2,643.8 565.6,645.3 556.2,646.9 543.8,646.1 531.2,646.9 518.8,647.7 509.4,648.4 512.5,643.8 519.5,637.5 516.2,633.6 508.4,632.7 500.6,630.3 495.9,625.6 494.4,620.9 489.7,614.7 485.0,615.5 475.6,615.5 467.8,613.1 461.6,610.0 455.3,606.9 447.5,606.1 444.4,604.5 441.2,606.9 436.6,605.3 430.3,603.8 427.2,601.4 435.0,599.1 433.4,596.7 422.5,595.2 414.7,595.9 406.9,600.6 400.6,605.3 392.8,605.3 388.1,610.0 381.9,612.3 374.1,611.8"/>
<polygon points="407.7,614.7 410.0,610.8 414.7,610.0 417.8,613.1 417.0,617.0 413.1,618.6 409.2,617.8"/>
<polygon points="588.9,650.5 591.2,648.1 599.1,646.9 606.9,648.9 613.1,651.2 620.2,651.2 622.5,648.1 628.8,647.8 635.0,647.3 641.2,649.7 647.5,652.0 653.8,652.0 656.9,655.9 660.0,660.6 660.8,658.3 667.8,658.3 668.6,660.6 661.6,661.9 660.0,663.0 669.4,663.8 675.6,665.3 680.3,668.4 684.2,672.3 681.9,677.0 678.8,680.2 676.4,677.8 675.6,675.5 669.4,674.7 661.6,674.7 653.8,674.7 649.8,678.6 644.4,679.4 641.2,675.5 636.6,679.4 633.4,677.8 630.3,684.1 627.2,688.8 624.8,691.1 622.5,687.2 619.4,682.5 613.1,679.4 605.3,680.2 595.9,679.4 588.1,678.6 583.4,680.2 580.3,682.5 577.2,678.6 570.2,676.2 570.2,672.3 574.8,670.8 583.4,672.3 591.2,673.9 599.1,675.5 605.3,673.1 610.0,670.8 605.3,668.4 602.2,664.5 601.4,658.3 599.8,655.2 595.9,652.8 590.5,652.8"/>
<polygon points="498.5,676.2 506.0,673.8 516.0,673.8 526.0,677.5 536.0,681.2 537.2,685.0 528.5,685.0 523.5,688.8 518.5,690.0 512.2,686.2 503.5,681.2 498.5,677.5"/>
<polygon points="705.8,675.0 714.5,673.2 727.0,673.8 735.8,675.0 735.8,678.8 729.5,683.8 717.0,684.5 707.0,683.8 705.2,678.8"/>
<polygon points="500.0,548.4 503.1,550.0 506.2,557.8 510.2,564.0 512.5,570.3 511.7,575.0 507.8,575.0 504.7,570.3 501.6,565.6 496.9,562.5 495.3,559.4 498.4,554.7"/>
<polygon points="585.2,625.0 590.6,623.4 596.1,620.3 597.7,617.2 596.9,621.9 593.0,626.6 587.5,628.1"/>
<polygon points="813.8,818.0 823.2,817.0 823.5,824.0 822.0,830.5 814.0,831.0 812.0,826.0"/>
</g>
<polygon fill="#fff" points="620.2,673.1 625.6,675.0 624.8,675.9 619.7,674.4"/>
<polygon fill="#fff" points="614.7,670.8 617.0,671.2 617.8,673.9 615.0,673.1"/>
<polygon fill="#fff" points="333.6,162.2 329.7,168.5 325.0,174.8 318.8,179.4 315.6,184.1 317.2,186.5 323.4,181.8 328.9,179.4 327.3,184.1 325.0,190.4 321.9,198.2 319.5,206.0 318.4,210.7 320.0,218.5 320.3,226.3 322.7,234.1 326.6,239.6 331.2,240.4 337.5,238.0 343.0,234.1 346.9,227.9 349.2,221.6 349.7,215.4 347.7,209.1 345.0,202.9 345.3,195.1 349.2,188.8 350.0,183.3 353.9,179.4 360.2,177.9 361.7,181.0 364.1,179.4 365.6,172.4 370.3,170.8 373.4,169.3 371.9,166.9 375.0,163.8 381.2,165.4 387.5,166.9 393.8,170.1 400.0,172.4 403.9,176.3 402.3,179.4 403.9,184.1 403.1,189.6 399.2,191.9 397.7,195.1 393.8,196.6 392.5,201.3 396.1,202.9 400.0,202.9 403.1,199.0 407.8,195.8 412.5,195.8 416.4,199.8 418.8,206.0 420.3,214.6 425.0,213.8 429.7,211.5 433.6,209.1 434.4,193.5 439.1,187.2 443.0,182.6 441.4,177.9 437.5,174.0 440.6,173.2 446.9,179.4 448.4,184.9 453.9,183.3 460.0,184.9 465.0,186.5 466.6,181.8 471.2,181.0 468.1,176.3 463.4,171.6 458.8,166.9 455.6,162.2"/>
<polygon fill="#fff" points="412.5,221.6 416.4,220.8 418.8,224.0 421.1,224.8 420.3,227.9 414.1,228.7 409.4,228.7 410.2,224.8"/>
<polygon fill="#fff" points="307.0,193.5 309.4,192.2 310.9,195.1 310.2,199.0 307.8,199.8"/>
<polygon fill="#fff" points="401.6,238.8 406.2,233.3 409.4,232.6 418.8,233.3 425.0,229.4 432.8,227.1 439.0,223.2 446.9,221.3 456.2,221.6 458.8,220.8 468.1,217.7 477.5,216.2 483.8,213.0 486.9,214.6 486.9,218.5 482.2,222.4 474.4,226.3 465.0,231.0 455.6,234.9 446.2,238.0 440.0,239.6 437.5,241.2 431.2,242.7 420.3,245.0 409.4,243.5 403.1,240.4"/>
<polygon fill="#fff" points="470.5,208.3 473.6,204.4 480.6,200.5 490.0,198.2 499.4,196.6 508.8,195.4 518.1,193.5 524.4,195.0 530.6,193.5 536.9,195.0 537.7,201.3 533.8,205.2 527.5,208.3 521.2,209.9 511.9,209.9 502.5,208.3 493.1,209.1 485.3,210.7 477.5,211.5 472.0,210.7"/>
<polygon fill="#fff" points="473.6,188.0 477.5,184.1 479.1,186.5 482.2,188.0 480.6,190.4 475.9,191.2"/>
<polygon fill="#fff" points="354.8,796.9 358.0,793.8 363.4,795.3 371.2,801.6 376.7,807.8 376.7,812.5 371.2,813.3 363.4,809.4 357.2,804.7 354.8,800.0"/>
<polygon fill="#fff" points="343.0,788.5 347.0,787.5 351.7,789.5 351.0,792.0 346.0,791.5"/>
<polygon fill="#fff" points="760.5,670.3 760.4,672.6 757.9,675.3 754.6,676.7 752.3,676.0 752.5,673.6 754.9,671.0 758.2,669.6"/>
<polygon fill="#fff" points="817.8,715.1 816.6,715.9 814.5,715.6 812.6,714.4 812.2,713.0 813.4,712.3 815.5,712.6 817.4,713.7"/>
<polygon fill="#fff" points="792.7,698.8 791.4,698.7 789.4,697.3 787.6,695.5 787.3,694.3 788.6,694.4 790.6,695.8 792.4,697.6"/>
<polygon fill="#fff" points="784.6,680.5 784.2,682.0 783.3,682.7 782.4,682.0 782.0,680.5 782.4,678.9 783.3,678.3 784.2,678.9"/>
<polygon fill="#fff" points="717.4,798.0 716.5,799.2 714.2,799.8 712.0,799.2 711.0,798.0 712.0,796.7 714.2,796.2 716.5,796.7"/>
<polygon fill="#fff" points="755.6,687.1 754.8,688.0 752.4,688.9 750.0,689.3 748.8,688.9 749.6,687.9 751.9,687.0 754.4,686.6"/>
<polygon fill="#fff" points="741.6,679.8 741.1,680.6 739.4,681.2 737.7,681.5 736.8,681.1 737.4,680.4 739.0,679.7 740.8,679.5"/>
<polygon fill="#fff" points="818.1,721.6 817.7,722.4 816.9,722.8 816.0,722.4 815.7,721.6 816.0,720.7 816.9,720.4 817.7,720.7"/>
<polygon fill="#fff" points="800.3,706.2 800.0,707.4 799.4,707.9 798.7,707.4 798.5,706.2 798.7,705.1 799.4,704.6 800.0,705.1"/>
<polygon fill="#fff" points="819.2,777.3 819.0,778.5 818.4,778.9 817.9,778.5 817.6,777.3 817.9,776.2 818.4,775.7 819.0,776.2"/>
<polygon fill="#fff" points="814.1,786.0 813.4,786.8 812.7,786.8 812.5,786.2 812.7,785.2 813.4,784.5 814.1,784.4 814.4,785.1"/>
<polygon fill="#fff" points="755.0,797.7 754.7,798.3 754.1,798.6 753.4,798.3 753.2,797.7 753.4,797.0 754.1,796.8 754.7,797.0"/>
<polygon fill="#fff" points="726.8,798.4 726.6,799.1 725.9,799.3 725.3,799.1 725.0,798.4 725.3,797.8 725.9,797.5 726.6,797.8"/>
<polygon fill="#fff" points="831.1,808.6 830.9,809.4 830.0,810.3 828.7,810.7 827.9,810.4 828.1,809.6 829.0,808.7 830.3,808.3"/>
<polygon fill="#fff" points="758.1,813.8 765.0,811.9 769.4,811.9 770.0,815.0 766.2,816.2 761.2,815.0"/>
<polygon fill="#fff" points="825.0,811.2 830.6,807.5 831.2,809.4 826.2,811.9"/>
<polygon fill="#fff" points="755.3,798.1 754.8,798.9 753.9,798.9 753.5,798.1 753.9,797.3 754.8,797.3"/>
<polygon fill="#fff" points="710.8,796.2 717.0,795.5 718.2,799.5 712.0,800.0"/>
<polygon fill="#fff" points="669.5,788.8 673.2,791.2 677.0,795.0 675.0,795.5 670.8,792.0"/>
<polygon fill="#fff" points="683.2,789.5 685.8,790.0 687.5,793.8 685.0,793.0"/>
<polygon fill="#fff" points="652.0,783.8 654.5,785.0 656.0,788.0 653.5,787.0"/>
<polygon fill="#fff" points="727.0,798.2 726.4,798.9 725.1,798.9 724.5,798.2 725.1,797.6 726.4,797.6"/>
<polygon fill="#fff" points="755.3,798.0 754.9,798.7 754.1,798.7 753.7,798.0 754.1,797.3 754.9,797.3"/>
<polygon fill="#fff" points="759.5,813.8 767.0,811.2 769.5,812.5 768.2,815.0 762.0,815.8"/>
<polygon fill="#fff" points="762.0,821.2 770.8,822.0 770.0,823.8 762.5,823.2"/>
<polygon fill="#fff" points="698.2,829.5 697.5,830.6 695.8,831.1 694.0,830.6 693.2,829.5 694.0,828.4 695.8,827.9 697.5,828.4"/>
<polygon fill="#fff" points="649.5,801.2 658.2,801.2 658.2,805.0 650.0,805.0"/>
<polygon fill="#fff" points="148.0,383.8 152.0,385.0 154.5,382.0 157.0,382.5 157.0,387.0 152.0,387.5 148.8,386.2"/>
<polygon fill="#fff" points="310.6,195.5 310.0,197.6 308.8,198.5 307.5,197.6 306.9,195.5 307.5,193.4 308.8,192.5 310.0,193.4"/>
<polygon fill="#fff" points="630.1,204.7 628.9,205.2 627.1,204.5 625.9,203.1 625.9,201.8 627.1,201.3 628.9,202.0 630.1,203.4"/>
<polygon fill="#fff" points="611.4,226.7 610.6,227.9 609.6,228.1 609.0,227.3 609.1,225.8 609.9,224.6 610.9,224.4 611.5,225.2"/>
<polygon fill="#fff" points="436.9,484.4 436.4,485.3 435.6,485.3 435.1,484.4 435.6,483.4 436.4,483.4"/>
<polygon fill="#fff" points="441.9,491.2 441.4,492.2 440.6,492.2 440.1,491.2 440.6,490.3 441.4,490.3"/>
<polygon fill="#fff" points="444.4,497.5 443.9,498.5 443.1,498.5 442.6,497.5 443.1,496.5 443.9,496.5"/>
<polygon fill="#fff" points="443.1,507.5 442.7,508.5 441.8,508.5 441.4,507.5 441.8,506.5 442.7,506.5"/>
<polygon fill="#fff" points="433.1,481.9 432.7,482.8 431.8,482.8 431.4,481.9 431.8,480.9 432.7,480.9"/>
<polygon fill="#fff" points="341.7,715.0 348.8,712.7 359.7,712.7 358.9,715.0 350.3,716.2 344.1,716.9"/>
<polygon fill="#fff" points="290.9,729.5 298.8,727.2 298.8,729.8 292.5,731.9"/>
<polygon fill="#fff" points="326.1,668.9 329.2,668.1 329.2,672.8 326.9,675.2"/>
<polygon fill="#fff" points="335.0,636.9 340.2,633.0 341.2,634.5 336.6,640.0"/>
<polygon fill="#fff" points="322.2,651.7 327.7,650.2 327.2,654.1 323.4,655.6"/>
<polygon fill="#fff" points="241.7,669.7 254.2,668.1 255.0,671.2 247.2,674.4"/>
<polygon fill="#fff" points="389.2,729.7 393.9,728.9 401.7,733.6 397.0,734.4"/>
<polygon fill="#fff" points="341.6,713.3 349.4,712.2 359.5,714.1 349.4,715.6 343.1,716.4"/>
<polygon fill="#fff" points="340.0,721.1 349.4,718.4 358.8,719.5 349.4,721.9 340.0,725.0"/>
<polygon fill="#fff" points="421.2,844.5 425.9,843.8 432.2,850.0 429.8,852.3 424.4,850.8"/>
<polygon fill="#fff" points="465.8,848.4 470.5,844.5 471.2,850.0 467.3,851.6"/>
<polygon fill="#fff" points="535.3,849.7 537.7,841.9 543.9,839.1 549.4,840.3 544.7,843.4 540.0,845.0 536.9,852.0"/>
<polygon fill="#fff" points="545.5,832.5 548.6,821.6 552.5,816.9 558.8,815.6 555.6,820.0 551.7,823.1 548.6,834.1"/>
<polygon fill="#fff" points="590.8,807.8 597.8,802.8 602.5,797.8 608.8,794.7 615.0,789.5 619.7,788.0 615.0,793.4 608.8,798.1 602.5,801.2 597.8,805.6"/>
<polygon fill="#fff" points="569.7,814.5 574.4,809.8 575.2,813.0 572.0,819.2"/>
<polygon fill="#fff" points="583.7,848.9 582.9,850.6 581.4,850.6 580.7,848.9 581.4,847.2 582.9,847.2"/>
<polygon fill="#fff" points="158.8,680.4 157.3,680.4 155.5,679.0 154.4,677.0 154.7,675.5 156.1,675.5 157.9,676.9 159.0,679.0"/>
<polygon fill="#fff" points="216.1,700.7 214.6,701.4 211.8,701.1 209.2,700.0 208.3,698.7 209.7,697.9 212.6,698.2 215.2,699.4"/>
<polygon fill="#fff" points="177.8,711.1 177.3,712.4 176.2,712.9 175.2,712.4 174.8,711.1 175.2,709.8 176.2,709.3 177.3,709.8"/>
<polygon fill="#fff" points="192.8,686.9 192.4,688.0 191.4,688.5 190.4,688.0 190.0,686.9 190.4,685.7 191.4,685.3 192.4,685.7"/>
<polygon fill="#fff" points="257.8,745.0 257.3,745.8 256.2,746.2 255.2,745.8 254.8,745.0 255.2,744.2 256.2,743.8 257.3,744.2"/>
<polygon fill="#fff" points="230.8,719.1 229.5,719.1 227.4,717.8 225.7,715.9 225.4,714.6 226.8,714.6 228.9,716.0 230.6,717.8"/>
<polygon fill="#fff" points="239.1,722.2 237.5,722.2 234.1,721.2 230.9,719.8 229.7,718.8 231.2,718.7 234.6,719.7 237.9,721.1"/>
<polygon fill="#fff" points="661.7,166.9 660.6,167.1 659.2,166.4 658.3,165.2 658.3,164.1 659.4,163.9 660.8,164.6 661.7,165.8"/>
<polygon fill="#fff" points="675.0,164.8 674.6,165.5 673.8,165.8 673.0,165.5 672.6,164.8 673.0,164.1 673.8,163.8 674.6,164.1"/>
<polygon fill="#fff" points="700.9,165.9 699.7,166.4 697.2,166.1 694.9,165.1 694.1,164.1 695.3,163.6 697.8,163.9 700.1,164.9"/>
<polygon fill="#fff" points="639.8,179.5 639.3,181.1 638.0,181.7 636.7,181.1 636.2,179.5 636.7,177.9 638.0,177.3 639.3,177.9"/>
<polygon fill="#fff" points="630.6,204.7 629.4,205.3 627.7,204.9 626.5,203.6 626.4,202.3 627.6,201.7 629.3,202.1 630.5,203.4"/>
<polygon fill="#fff" points="644.5,199.0 644.1,199.7 643.0,200.0 641.9,199.7 641.5,199.0 641.9,198.3 643.0,198.0 644.1,198.3"/>
<polygon fill="#fff" points="611.5,225.8 610.8,227.0 610.0,227.4 609.5,226.7 609.5,225.2 610.2,224.0 611.0,223.6 611.5,224.3"/>
<polygon fill="#fff" points="762.3,191.5 761.8,192.1 760.5,192.4 759.2,192.1 758.7,191.5 759.2,190.9 760.5,190.6 761.8,190.9"/>
<polygon fill="#fff" points="747.3,192.8 746.8,193.5 745.5,193.8 744.2,193.5 743.7,192.8 744.2,192.1 745.5,191.8 746.8,192.1"/>
<polygon fill="#fff" points="752.2,414.0 752.0,414.7 751.1,415.4 750.1,415.8 749.4,415.6 749.6,414.9 750.4,414.2 751.5,413.8"/>
<polygon fill="#fff" points="633.5,619.0 633.2,619.7 632.5,620.0 631.8,619.7 631.5,619.0 631.8,618.3 632.5,618.0 633.2,618.3"/>
<polygon fill="#fff" points="644.7,626.5 644.3,627.1 643.5,627.3 642.7,627.1 642.3,626.5 642.7,625.9 643.5,625.7 644.3,625.9"/>
<polygon fill="#fff" points="660.1,632.8 659.3,633.1 657.7,632.8 656.3,632.0 655.9,631.2 656.7,630.9 658.3,631.2 659.7,632.0"/>
<polygon fill="#fff" points="668.2,636.0 667.8,636.5 667.0,636.7 666.2,636.5 665.8,636.0 666.2,635.5 667.0,635.3 667.8,635.5"/>
<polygon fill="#fff" points="319.5,772.5 320.0,768.5 326.0,769.0 329.0,776.5 324.5,778.0 322.0,774.0"/>
<polygon fill="#7CFF83" points="540.0,327.5 537.5,323.8 536.2,317.5 536.9,311.2 536.2,306.2 533.8,301.2 532.5,296.2 531.9,291.2 533.8,286.2 537.5,283.1 541.2,280.6 542.5,280.0 540.0,283.8 536.2,287.5 535.0,292.5 536.2,296.9 538.8,301.2 542.5,305.0 546.2,308.8 545.0,313.1 542.5,317.5 541.9,322.5 543.1,325.6 542.0,328.0"/>
<polygon fill="#7CFF83" points="551.5,282.5 555.0,285.0 560.0,288.0 561.5,290.5 558.0,293.0 554.5,289.0 551.5,285.0"/>
<polygon fill="#A8FF57" points="528.8,344.4 533.8,343.1 540.0,344.4 546.2,346.5 548.5,347.8 550.2,352.5 550.6,357.5 548.1,360.2 542.5,362.2 537.5,364.0 533.8,365.6 530.6,366.2 531.9,361.9 534.4,358.8 538.8,356.9 542.5,355.0 545.0,352.5 545.6,350.0 545.0,348.8 540.0,347.2 533.8,346.0 529.0,346.9"/>
<polygon fill="#FFFF00" points="535.0,353.5 541.0,352.5 541.5,355.2 535.6,356.5"/>
<polygon fill="#D8FF27" points="541.0,350.0 545.0,349.0 545.4,351.9 541.5,354.0"/>
<polygon fill="#D8FF27" points="624.0,819.2 625.2,824.7 629.0,830.9 633.0,837.2 633.0,845.0 628.3,848.9 622.0,849.7 619.7,843.4 615.0,836.4 618.1,830.2 622.8,824.7"/>
<polygon fill="#7CFF83" points="788.8,821.0 800.0,820.5 812.5,820.0 812.0,826.0 813.0,831.0 806.0,833.0 800.0,835.0 797.0,831.0 793.0,824.5"/>
<polygon fill="#50FFAF" points="803.0,831.5 808.0,831.5 809.0,835.0 805.0,835.0"/>
<polygon fill="#8B0000" points="443.5,510.0 451.0,508.8 457.2,510.0 463.5,513.8 465.0,518.8 465.0,527.5 463.5,535.0 457.2,536.2 451.0,535.0 446.0,533.8 441.0,533.8 436.0,531.2 433.5,527.5 436.0,521.2 441.0,518.8 443.5,515.0"/>
<polygon fill="#8B0000" points="445.4,477.5 448.5,478.8 451.0,487.5 454.1,497.5 458.5,507.5 462.2,510.0 457.2,510.0 452.2,501.2 449.8,492.5 447.2,485.0"/>
<polygon fill="#FF4500" points="447.9,536.2 457.2,535.6 456.6,540.0 452.2,545.0 449.1,541.2"/>
<polygon fill="#FF7300" points="449.1,541.2 456.0,540.6 452.2,545.2"/>
<polygon fill="#8B0000" points="240.0,443.1 246.2,438.8 251.2,441.2 255.0,448.8 256.2,457.5 253.8,461.2 248.8,458.8 243.8,452.5 242.5,446.2"/>
<polygon fill="#E10000" points="253.1,456.2 256.2,457.5 261.2,462.5 265.6,466.0 260.0,465.2 255.0,461.9"/>
<polygon fill="#FF7300" points="256.2,465.2 265.0,466.0 264.4,469.8 258.8,470.2 255.6,468.1"/>
<polygon fill="#FFD000" points="258.8,470.2 264.4,469.8 265.0,473.1 261.2,473.8"/>
<polygon fill="#FFFF00" points="225.0,459.0 231.2,458.1 237.5,461.2 236.2,464.8 228.8,464.4 224.4,461.9"/>
<polygon fill="#FFA000" points="207.5,457.5 213.8,456.2 216.2,460.0 211.2,463.1 206.2,461.9"/>
<polygon fill="#FFFF00" points="215.0,459.8 223.8,460.2 223.8,463.1 216.2,463.1"/>
<polygon fill="#FFFF00" points="262.5,452.8 270.0,451.9 272.5,456.2 266.2,458.1 261.9,456.2"/>
<polygon fill="#D8FF27" points="271.2,452.8 277.5,451.9 281.2,454.4 278.1,457.5 272.5,457.2"/>
<polygon fill="#FFFF00" points="271.9,460.6 280.0,460.2 281.2,466.2 275.0,468.1 271.2,465.0"/>
<polygon fill="#FF7300" points="279.0,461.2 286.2,461.9 285.0,466.5 280.6,465.6"/>
<polygon fill="#FFD000" points="281.9,466.5 286.2,466.5 294.4,474.0 292.5,475.2 286.2,470.6"/>
<polygon fill="#FFFFFF" points="286.2,458.8 293.1,456.9 294.4,461.2 290.0,465.0 286.9,463.1"/>
<polygon fill="#FFFFFF" points="290.0,475.0 295.0,470.6 296.9,473.8 292.5,478.1"/>
<polygon fill="#FFFFFF" points="247.5,463.8 255.0,469.4 262.5,473.5 270.0,474.1 270.0,475.2 261.9,475.0 253.8,471.0 246.9,465.2"/>
<polygon fill="#A8FF57" points="314.8,451.9 316.2,444.4 317.5,444.4 318.8,451.9"/>
<polygon fill="#FFFF00" points="135.5,545.0 139.5,543.5 141.0,547.0 138.0,550.5 135.5,549.5"/>
<polyline fill="none" stroke="#FFFFFF" stroke-width="1.6" points="485.9,520.3 490.6,522.7 495.3,518.8 501.6,517.2 504.7,518.8"/>
<polyline fill="none" stroke="#FFFFFF" stroke-width="1.6" points="504.7,516.4 512.5,517.2 518.8,523.4"/>
<polyline fill="none" stroke="#FFFFFF" stroke-width="1.3" points="525.0,543.0 529.7,543.0 537.5,548.4 538.3,554.7 535.9,557.8"/>
<polyline fill="none" stroke="#FFFFFF" stroke-width="1.0" points="512.5,550.8 520.3,550.0"/>
<polyline fill="none" stroke="#FFFFFF" stroke-width="0.8" points="505.5,537.5 508.6,543.8"/>
<polyline fill="none" stroke="#FFFFFF" stroke-width="1.3" points="546.1,558.6 550.0,562.5 553.1,568.0"/>
<polyline fill="none" stroke="#FFFFFF" stroke-width="1.2" points="525.8,560.2 531.2,565.6 537.5,573.4 543.8,578.9 549.2,581.2"/>
<polyline fill="none" stroke="#FFFFFF" stroke-width="1.3" points="553.9,577.3 557.8,584.4 561.7,590.6"/>
<polyline fill="none" stroke="#FFFFFF" stroke-width="1.6" points="572.7,593.0 580.5,595.3 579.7,600.0 574.2,604.4"/>
<polyline fill="none" stroke="#FFFFFF" stroke-width="1.3" points="594.5,600.0 601.6,602.3"/>
<polyline fill="none" stroke="#FFFFFF" stroke-width="1.0" points="568.8,568.8 570.3,571.9"/>
<polyline fill="none" stroke="#FFFFFF" stroke-width="1.0" points="560.9,576.6 563.3,577.3"/>
<polyline fill="none" stroke="#FFFFFF" stroke-width="1.0" points="607.0,614.8 610.0,610.2"/>
<polyline fill="none" stroke="#FFFFFF" stroke-width="0.8" points="582.8,587.2 584.4,587.8"/>
<polyline fill="none" stroke="#FFFFFF" stroke-width="0.8" points="585.9,596.6 588.3,597.2"/>
<polyline fill="none" stroke="#FFFFFF" stroke-width="1.0" points="479.7,539.1 482.0,536.7 483.6,535.2"/>
<polyline fill="none" stroke="#FFFFFF" stroke-width="1.0" points="426.0,560.0 432.2,559.4 438.5,558.1 446.0,555.6 452.2,553.1 457.2,551.2 461.0,547.5"/>
<polyline fill="none" stroke="#FFFFFF" stroke-width="1.1" points="533.8,192.7 540.0,189.6 547.8,184.9 555.6,179.4 565.0,174.8 574.4,170.8 580.6,168.5 588.4,164.6"/>
<polyline fill="none" stroke="#FFFFFF" stroke-width="0.8" points="526.7,163.8 530.6,167.7 536.9,168.5 546.2,170.1 555.6,167.7 565.0,166.2 574.4,166.9 580.6,168.5"/>
<polyline fill="none" stroke="#FFFFFF" stroke-width="1.3" points="592.3,176.6 593.9,180.2 592.3,184.9 590.8,191.2 590.0,196.6 586.9,202.1 584.5,206.0"/>
<polyline fill="none" stroke="#FFFFFF" stroke-width="0.6" points="517.3,217.7 516.6,220.8"/>
<polyline fill="none" stroke="#FFFFFF" stroke-width="0.6" points="521.2,218.5 518.9,224.8"/>
<polyline fill="none" stroke="#FFFFFF" stroke-width="0.6" points="524.4,217.7 525.2,225.5"/>
<polyline fill="none" stroke="#FFFFFF" stroke-width="0.6" points="527.5,216.9 531.4,224.0"/>
<polyline fill="none" stroke="#FFFFFF" stroke-width="0.6" points="531.4,216.2 533.8,219.3"/>
<polyline fill="none" stroke="#FFFFFF" stroke-width="0.6" points="533.8,215.4 536.1,218.5"/>
<polyline fill="none" stroke="#FFFFFF" stroke-width="1.2" points="539.2,210.4 546.2,211.5"/>
<polyline fill="none" stroke="#FFFFFF" stroke-width="0.9" points="476.7,229.4 479.8,231.8"/>
<polyline fill="none" stroke="#FFFFFF" stroke-width="1.0" points="311.2,327.5 313.8,335.0 316.2,343.8 317.5,346.2"/>
<polyline fill="none" stroke="#FFFFFF" stroke-width="0.8" points="314.5,327.0 318.0,332.5 317.0,340.0"/>
<polyline fill="none" stroke="#FFFFFF" stroke-width="0.9" points="322.5,368.0 330.0,369.5 337.0,372.5"/>
<polyline fill="none" stroke="#FFFFFF" stroke-width="0.8" points="231.2,185.0 236.2,187.0 239.5,189.0"/>
<polyline fill="none" stroke="#FFFFFF" stroke-width="0.7" points="254.5,197.5 257.0,203.8 258.0,212.5"/>
<polyline fill="none" stroke="#FFFFFF" stroke-width="1.2" points="213.0,372.0 219.0,371.2"/>
<polyline fill="none" stroke="#FFFFFF" stroke-width="0.9" points="278.8,193.0 279.5,198.8"/>
<polyline fill="none" stroke="#FFFFFF" stroke-width="0.9" points="364.5,335.5 370.0,334.5"/>
<polyline fill="none" stroke="#FFFFFF" stroke-width="1.2" points="489.8,332.5 496.0,335.5"/>
<polyline fill="none" stroke="#FFFFFF" stroke-width="1.2" points="499.8,335.5 509.8,337.0"/>
<polyline fill="none" stroke="#FFFFFF" stroke-width="1.0" points="471.0,323.8 474.8,326.2"/>
<polyline fill="none" stroke="#FFFFFF" stroke-width="1.2" points="389.8,378.8 394.8,375.0"/>
<polyline fill="none" stroke="#FFFFFF" stroke-width="1.0" points="407.2,372.5 413.5,376.2"/>
<polyline fill="none" stroke="#FFFFFF" stroke-width="1.2" points="417.2,383.8 424.8,388.8"/>
<polyline fill="none" stroke="#FFFFFF" stroke-width="1.0" points="437.2,382.0 443.5,382.5"/>
<polyline fill="none" stroke="#FFFFFF" stroke-width="1.0" points="456.5,392.0 463.5,393.8"/>
<polyline fill="none" stroke="#FFFFFF" stroke-width="1.0" points="538.0,210.0 546.0,211.5"/>
<polyline fill="none" stroke="#E8C8C8" stroke-width="0.6" points="446.6,513.8 451.6,511.2 454.8,515.0 452.9,520.6 448.5,516.9 446.6,513.8"/>
<polyline fill="none" stroke="#FFFFFF" stroke-width="1.4" points="203.8,421.9 207.5,426.2 209.4,431.2 210.6,435.0"/>
<polyline fill="none" stroke="#FFFFFF" stroke-width="1.2" points="405.6,740.6 403.3,750.0 400.2,762.5"/>
<polyline fill="none" stroke="#FFFFFF" stroke-width="1.4" points="398.6,779.7 397.0,789.1 395.0,800.0"/>
<polyline fill="none" stroke="#FFFFFF" stroke-width="1.2" points="133.0,556.0 132.0,581.0 133.0,603.5 137.5,618.5"/>
<polyline fill="none" stroke="#FFFFFF" stroke-width="1.3" points="777.5,164.2 788.0,164.6 800.0,164.2"/>
<polyline fill="none" stroke="#FFFFFF" stroke-width="1.5" points="805.0,164.6 812.5,165.2"/>
<polyline fill="none" stroke="#FFFFFF" stroke-width="1.0" points="815.0,163.5 830.0,163.2"/>
<polyline fill="none" stroke="#A8FF57" stroke-width="0.8" points="580.2,255.0 579.8,247.0 579.4,240.0 579.4,234.0"/>
<polyline fill="none" stroke="#E4FFEC" stroke-width="0.9" points="532.5,307.5 527.5,304.4 522.5,301.9 520.0,298.8 517.5,300.0"/>
<polyline fill="none" stroke="#E4FFEC" stroke-width="0.9" points="535.0,316.2 530.0,312.5 525.0,309.4"/>
<polyline fill="none" stroke="#E4FFEC" stroke-width="0.9" points="537.5,326.2 532.5,325.0 527.5,323.8 523.8,323.1"/>
<polyline fill="none" stroke="#E4FFEC" stroke-width="0.9" points="535.0,322.5 530.0,320.0 527.5,318.1"/>
<polyline fill="none" stroke="#FFFFFF" stroke-width="0.8" points="533.5,301.0 532.2,296.0 531.6,291.0 533.5,286.0 537.5,282.8 542.0,280.0"/>
<polyline fill="none" stroke="#FFFFFF" stroke-width="0.9" points="437.0,586.5 447.0,584.3 457.0,585.8 467.0,590.0 475.0,593.2 480.0,597.2 489.0,598.3 498.0,599.6 504.0,604.3 510.0,609.0 516.0,613.0 522.0,617.0"/>
<polyline fill="none" stroke="#FFFFFF" stroke-width="0.8" points="482.0,614.8 489.0,615.2 494.0,620.0 497.0,626.0 502.0,630.5"/>
<polyline fill="none" stroke="#FFFFFF" stroke-width="0.8" points="797.0,839.0 799.5,846.0 802.5,853.0 800.0,860.0"/>
<polyline fill="none" stroke="#FFFFFF" stroke-width="0.7" points="796.0,842.0 793.0,850.0 795.0,858.0"/>
<polyline fill="none" stroke="#FFFFFF" stroke-width="0.8" points="821.5,848.0 823.5,855.0 822.0,860.0"/>
<path fill="#8B0000" d="M131,555h1v1h-1zM132,549h1v1h-1zM133,548h1v1h-1zM133,553h1v1h-1zM133,556h1v1h-1zM134,545h1v1h-1zM134,546h1v1h-1zM134,554h1v1h-1zM134,555h1v1h-1zM135,512h1v1h-1zM135,547h1v1h-1zM135,552h1v1h-1zM135,553h1v1h-1zM136,511h1v1h-1zM136,512h1v1h-1zM136,546h1v1h-1zM136,548h1v1h-1zM136,553h1v1h-1zM136,554h1v1h-1zM137,506h1v1h-1zM137,508h1v1h-1zM137,512h1v1h-1zM137,516h1v1h-1zM137,517h1v1h-1zM137,524h1v1h-1zM137,537h1v1h-1zM137,538h1v1h-1zM137,545h1v1h-1zM137,547h1v1h-1zM138,507h1v1h-1zM138,508h1v1h-1zM138,516h1v1h-1zM138,517h1v1h-1zM138,520h1v1h-1zM138,525h1v1h-1zM138,530h1v1h-1zM138,540h1v1h-1zM138,543h1v1h-1zM139,505h1v1h-1zM139,507h1v1h-1zM139,512h1v1h-1zM139,519h1v1h-1zM139,524h1v1h-1zM139,536h1v1h-1zM139,541h1v1h-1zM139,542h1v1h-1zM139,547h1v1h-1zM140,505h1v1h-1zM140,509h1v1h-1zM140,517h1v1h-1zM140,518h1v1h-1zM140,519h1v1h-1zM140,522h1v1h-1zM140,523h1v1h-1zM140,524h1v1h-1zM140,529h1v1h-1zM140,535h1v1h-1zM140,536h1v1h-1zM140,537h1v1h-1zM140,538h1v1h-1zM140,542h1v1h-1zM141,505h1v1h-1zM141,506h1v1h-1zM141,520h1v1h-1zM141,522h1v1h-1zM141,523h1v1h-1zM141,525h1v1h-1zM141,532h1v1h-1zM141,538h1v1h-1zM141,543h1v1h-1zM142,494h1v1h-1zM142,525h1v1h-1zM142,527h1v1h-1zM142,528h1v1h-1zM142,529h1v1h-1zM142,530h1v1h-1zM142,534h1v1h-1zM143,497h1v1h-1zM143,528h1v1h-1zM143,529h1v1h-1zM143,530h1v1h-1zM143,535h1v1h-1zM144,496h1v1h-1zM145,497h1v1h-1zM145,498h1v1h-1zM145,499h1v1h-1zM146,492h1v1h-1zM147,496h1v1h-1zM148,495h1v1h-1zM151,492h1v1h-1zM152,488h1v1h-1zM152,489h1v1h-1zM153,489h1v1h-1zM153,490h1v1h-1zM154,489h1v1h-1zM159,485h1v1h-1zM160,485h1v1h-1zM160,486h1v1h-1zM161,481h1v1h-1zM161,484h1v1h-1zM161,485h1v1h-1zM163,479h1v1h-1zM165,483h1v1h-1zM166,482h1v1h-1zM166,483h1v1h-1zM170,480h1v1h-1zM171,476h1v1h-1zM172,475h1v1h-1zM173,474h1v1h-1zM174,477h1v1h-1zM175,477h1v1h-1zM175,478h1v1h-1zM177,473h1v1h-1zM178,473h1v1h-1zM179,472h1v1h-1zM182,470h1v1h-1zM182,472h1v1h-1zM183,471h1v1h-1zM184,466h1v1h-1zM184,471h1v1h-1zM184,472h1v1h-1zM185,466h1v1h-1zM185,471h1v1h-1zM186,470h1v1h-1zM187,467h1v1h-1zM188,467h1v1h-1zM188,468h1v1h-1zM188,470h1v1h-1zM189,468h1v1h-1zM190,467h1v1h-1zM192,466h1v1h-1zM196,464h1v1h-1zM196,465h1v1h-1zM197,461h1v1h-1zM197,462h1v1h-1zM197,463h1v1h-1zM198,461h1v1h-1zM198,462h1v1h-1zM199,460h1v1h-1zM199,461h1v1h-1zM200,460h1v1h-1zM201,459h1v1h-1zM204,459h1v1h-1zM204,463h1v1h-1zM205,460h1v1h-1zM205,461h1v1h-1zM205,462h1v1h-1zM206,463h1v1h-1zM207,462h1v1h-1zM208,462h1v1h-1zM209,460h1v1h-1zM210,460h1v1h-1zM210,461h1v1h-1zM210,462h1v1h-1zM210,463h1v1h-1zM211,457h1v1h-1zM211,462h1v1h-1zM212,456h1v1h-1zM212,462h1v1h-1zM213,459h1v1h-1zM213,462h1v1h-1zM214,460h1v1h-1zM215,461h1v1h-1zM216,462h1v1h-1zM217,456h1v1h-1zM218,457h1v1h-1zM219,462h1v1h-1zM221,457h1v1h-1zM222,458h1v1h-1zM223,459h1v1h-1zM224,461h1v1h-1zM225,458h1v1h-1zM225,461h1v1h-1zM225,462h1v1h-1zM226,457h1v1h-1zM226,459h1v1h-1zM226,462h1v1h-1zM227,462h1v1h-1zM228,459h1v1h-1zM228,461h1v1h-1zM228,462h1v1h-1zM229,456h1v1h-1zM229,457h1v1h-1zM229,459h1v1h-1zM230,456h1v1h-1zM231,458h1v1h-1zM232,455h1v1h-1zM233,455h1v1h-1zM233,458h1v1h-1zM234,458h1v1h-1zM235,457h1v1h-1zM236,459h1v1h-1zM236,460h1v1h-1zM237,459h1v1h-1zM237,461h1v1h-1zM238,444h1v1h-1zM239,439h1v1h-1zM239,453h1v1h-1zM239,461h1v1h-1zM240,447h1v1h-1zM240,454h1v1h-1zM240,456h1v1h-1zM240,461h1v1h-1zM241,446h1v1h-1zM241,450h1v1h-1zM241,455h1v1h-1zM241,459h1v1h-1zM242,451h1v1h-1zM242,455h1v1h-1zM242,459h1v1h-1zM242,460h1v1h-1zM242,461h1v1h-1zM243,447h1v1h-1zM243,457h1v1h-1zM243,460h1v1h-1zM243,461h1v1h-1zM244,440h1v1h-1zM244,451h1v1h-1zM244,452h1v1h-1zM244,458h1v1h-1zM244,459h1v1h-1zM244,462h1v1h-1zM245,455h1v1h-1zM245,456h1v1h-1zM246,442h1v1h-1zM246,457h1v1h-1zM246,458h1v1h-1zM246,461h1v1h-1zM247,438h1v1h-1zM247,439h1v1h-1zM247,453h1v1h-1zM248,440h1v1h-1zM248,441h1v1h-1zM248,446h1v1h-1zM248,452h1v1h-1zM248,454h1v1h-1zM248,461h1v1h-1zM248,462h1v1h-1zM249,442h1v1h-1zM249,461h1v1h-1zM250,439h1v1h-1zM250,454h1v1h-1zM250,455h1v1h-1zM250,461h1v1h-1zM250,462h1v1h-1zM251,440h1v1h-1zM251,449h1v1h-1zM251,456h1v1h-1zM251,461h1v1h-1zM251,464h1v1h-1zM252,440h1v1h-1zM252,441h1v1h-1zM252,447h1v1h-1zM252,465h1v1h-1zM253,440h1v1h-1zM253,442h1v1h-1zM253,443h1v1h-1zM253,449h1v1h-1zM253,450h1v1h-1zM253,453h1v1h-1zM253,456h1v1h-1zM254,443h1v1h-1zM254,452h1v1h-1zM254,453h1v1h-1zM254,464h1v1h-1zM255,445h1v1h-1zM255,448h1v1h-1zM255,449h1v1h-1zM255,451h1v1h-1zM255,453h1v1h-1zM255,457h1v1h-1zM255,460h1v1h-1zM256,455h1v1h-1zM256,458h1v1h-1zM256,464h1v1h-1zM256,465h1v1h-1zM256,466h1v1h-1zM256,467h1v1h-1zM257,439h1v1h-1zM257,444h1v1h-1zM257,446h1v1h-1zM257,465h1v1h-1zM257,466h1v1h-1zM258,441h1v1h-1zM258,442h1v1h-1zM258,461h1v1h-1zM258,462h1v1h-1zM259,438h1v1h-1zM259,449h1v1h-1zM259,454h1v1h-1zM259,461h1v1h-1zM259,462h1v1h-1zM259,463h1v1h-1zM260,460h1v1h-1zM260,467h1v1h-1zM261,462h1v1h-1zM262,465h1v1h-1zM263,466h1v1h-1zM263,467h1v1h-1zM265,464h1v1h-1zM265,465h1v1h-1zM266,464h1v1h-1zM267,463h1v1h-1zM267,464h1v1h-1zM268,467h1v1h-1zM269,470h1v1h-1zM271,464h1v1h-1zM272,465h1v1h-1zM273,464h1v1h-1zM273,465h1v1h-1zM273,466h1v1h-1zM273,469h1v1h-1zM274,466h1v1h-1zM275,465h1v1h-1zM277,464h1v1h-1zM277,465h1v1h-1zM278,463h1v1h-1zM278,464h1v1h-1zM278,466h1v1h-1zM279,462h1v1h-1zM279,464h1v1h-1zM280,464h1v1h-1zM281,463h1v1h-1zM284,465h1v1h-1zM285,464h1v1h-1zM285,466h1v1h-1zM286,459h1v1h-1zM286,460h1v1h-1zM286,462h1v1h-1zM287,461h1v1h-1zM287,465h1v1h-1zM287,467h1v1h-1zM288,459h1v1h-1zM288,461h1v1h-1zM288,464h1v1h-1zM288,465h1v1h-1zM289,460h1v1h-1zM289,462h1v1h-1zM289,464h1v1h-1zM289,468h1v1h-1zM289,469h1v1h-1zM290,447h1v1h-1zM290,453h1v1h-1zM290,460h1v1h-1zM290,462h1v1h-1zM290,464h1v1h-1zM290,466h1v1h-1zM290,469h1v1h-1zM291,447h1v1h-1zM291,451h1v1h-1zM291,452h1v1h-1zM291,454h1v1h-1zM291,465h1v1h-1zM291,466h1v1h-1zM291,470h1v1h-1zM292,447h1v1h-1zM292,450h1v1h-1zM292,451h1v1h-1zM292,452h1v1h-1zM292,453h1v1h-1zM292,460h1v1h-1zM292,468h1v1h-1zM292,470h1v1h-1zM292,471h1v1h-1zM293,450h1v1h-1zM293,460h1v1h-1zM293,463h1v1h-1zM293,464h1v1h-1zM293,465h1v1h-1zM293,467h1v1h-1zM293,472h1v1h-1zM294,452h1v1h-1zM294,453h1v1h-1zM294,467h1v1h-1zM294,468h1v1h-1zM294,469h1v1h-1zM294,470h1v1h-1zM295,449h1v1h-1zM295,450h1v1h-1zM295,451h1v1h-1zM295,469h1v1h-1zM295,471h1v1h-1zM295,472h1v1h-1zM296,449h1v1h-1zM296,450h1v1h-1zM296,451h1v1h-1zM296,466h1v1h-1zM298,447h1v1h-1zM299,448h1v1h-1zM300,448h1v1h-1zM304,451h1v1h-1zM307,449h1v1h-1zM307,450h1v1h-1zM308,450h1v1h-1zM308,451h1v1h-1zM314,447h1v1h-1zM314,451h1v1h-1zM315,450h1v1h-1zM315,451h1v1h-1zM316,451h1v1h-1zM317,447h1v1h-1zM319,447h1v1h-1zM320,451h1v1h-1zM325,448h1v1h-1zM325,450h1v1h-1zM326,447h1v1h-1zM326,448h1v1h-1zM326,450h1v1h-1zM333,450h1v1h-1zM334,450h1v1h-1zM334,451h1v1h-1zM336,450h1v1h-1zM337,448h1v1h-1zM337,449h1v1h-1zM338,448h1v1h-1zM338,450h1v1h-1zM340,450h1v1h-1zM341,450h1v1h-1zM346,448h1v1h-1zM347,449h1v1h-1zM347,450h1v1h-1zM348,449h1v1h-1zM353,450h1v1h-1zM356,451h1v1h-1zM358,450h1v1h-1zM363,456h1v1h-1zM364,456h1v1h-1zM369,457h1v1h-1zM369,459h1v1h-1zM370,458h1v1h-1zM371,459h1v1h-1zM371,460h1v1h-1zM372,455h1v1h-1zM372,458h1v1h-1zM373,455h1v1h-1zM377,456h1v1h-1zM378,457h1v1h-1zM380,457h1v1h-1zM392,456h1v1h-1zM396,454h1v1h-1zM396,455h1v1h-1zM397,456h1v1h-1zM399,459h1v1h-1zM400,460h1v1h-1zM400,461h1v1h-1zM401,459h1v1h-1zM401,460h1v1h-1zM402,460h1v1h-1zM402,461h1v1h-1zM404,462h1v1h-1zM404,466h1v1h-1zM405,462h1v1h-1zM405,463h1v1h-1zM405,464h1v1h-1zM405,465h1v1h-1zM406,463h1v1h-1zM406,466h1v1h-1zM406,467h1v1h-1zM407,468h1v1h-1zM408,469h1v1h-1zM409,468h1v1h-1zM409,470h1v1h-1zM410,470h1v1h-1zM410,471h1v1h-1zM411,470h1v1h-1zM412,468h1v1h-1zM412,469h1v1h-1zM412,470h1v1h-1zM413,469h1v1h-1zM413,471h1v1h-1zM414,474h1v1h-1zM414,494h1v1h-1zM415,475h1v1h-1zM415,487h1v1h-1zM415,490h1v1h-1zM415,491h1v1h-1zM415,496h1v1h-1zM416,483h1v1h-1zM416,486h1v1h-1zM416,487h1v1h-1zM416,489h1v1h-1zM416,490h1v1h-1zM416,492h1v1h-1zM416,497h1v1h-1zM417,482h1v1h-1zM417,483h1v1h-1zM417,493h1v1h-1zM417,495h1v1h-1zM417,501h1v1h-1zM417,502h1v1h-1zM418,472h1v1h-1zM418,482h1v1h-1zM418,498h1v1h-1zM418,499h1v1h-1zM418,502h1v1h-1zM419,471h1v1h-1zM419,480h1v1h-1zM419,483h1v1h-1zM419,485h1v1h-1zM419,492h1v1h-1zM419,493h1v1h-1zM419,496h1v1h-1zM419,502h1v1h-1zM420,485h1v1h-1zM420,495h1v1h-1zM420,502h1v1h-1zM420,503h1v1h-1zM420,504h1v1h-1zM420,507h1v1h-1zM420,508h1v1h-1zM421,497h1v1h-1zM421,504h1v1h-1zM422,494h1v1h-1zM422,505h1v1h-1zM422,506h1v1h-1zM423,496h1v1h-1zM423,514h1v1h-1zM423,515h1v1h-1zM424,516h1v1h-1zM425,517h1v1h-1zM426,512h1v1h-1zM426,516h1v1h-1zM427,516h1v1h-1zM427,517h1v1h-1zM428,521h1v1h-1zM429,509h1v1h-1zM429,510h1v1h-1zM429,515h1v1h-1zM429,519h1v1h-1zM429,520h1v1h-1zM429,521h1v1h-1zM430,435h1v1h-1zM430,513h1v1h-1zM430,514h1v1h-1zM430,519h1v1h-1zM430,520h1v1h-1zM430,521h1v1h-1zM431,455h1v1h-1zM431,511h1v1h-1zM431,515h1v1h-1zM431,517h1v1h-1zM431,518h1v1h-1zM431,519h1v1h-1zM431,522h1v1h-1zM431,523h1v1h-1zM432,439h1v1h-1zM432,516h1v1h-1zM432,518h1v1h-1zM432,520h1v1h-1zM432,521h1v1h-1zM433,434h1v1h-1zM433,438h1v1h-1zM433,439h1v1h-1zM433,447h1v1h-1zM433,451h1v1h-1zM433,452h1v1h-1zM433,453h1v1h-1zM433,508h1v1h-1zM433,509h1v1h-1zM433,510h1v1h-1zM433,512h1v1h-1zM433,513h1v1h-1zM433,514h1v1h-1zM433,516h1v1h-1zM433,517h1v1h-1zM433,520h1v1h-1zM433,521h1v1h-1zM433,522h1v1h-1zM434,439h1v1h-1zM434,440h1v1h-1zM434,441h1v1h-1zM434,443h1v1h-1zM434,448h1v1h-1zM434,451h1v1h-1zM434,513h1v1h-1zM434,516h1v1h-1zM434,520h1v1h-1zM434,521h1v1h-1zM434,524h1v1h-1zM434,529h1v1h-1zM434,531h1v1h-1zM434,532h1v1h-1zM435,440h1v1h-1zM435,442h1v1h-1zM435,446h1v1h-1zM435,513h1v1h-1zM435,515h1v1h-1zM435,519h1v1h-1zM435,521h1v1h-1zM435,522h1v1h-1zM435,523h1v1h-1zM435,525h1v1h-1zM435,528h1v1h-1zM435,533h1v1h-1zM436,424h1v1h-1zM436,456h1v1h-1zM436,458h1v1h-1zM436,462h1v1h-1zM436,511h1v1h-1zM436,517h1v1h-1zM436,519h1v1h-1zM436,522h1v1h-1zM436,523h1v1h-1zM436,526h1v1h-1zM436,527h1v1h-1zM436,528h1v1h-1zM437,424h1v1h-1zM437,439h1v1h-1zM437,440h1v1h-1zM437,443h1v1h-1zM437,444h1v1h-1zM437,446h1v1h-1zM437,449h1v1h-1zM437,453h1v1h-1zM437,462h1v1h-1zM437,464h1v1h-1zM437,465h1v1h-1zM437,508h1v1h-1zM437,512h1v1h-1zM437,520h1v1h-1zM437,521h1v1h-1zM437,527h1v1h-1zM437,532h1v1h-1zM437,533h1v1h-1zM438,432h1v1h-1zM438,445h1v1h-1zM438,447h1v1h-1zM438,453h1v1h-1zM438,454h1v1h-1zM438,457h1v1h-1zM438,462h1v1h-1zM438,463h1v1h-1zM438,464h1v1h-1zM438,467h1v1h-1zM438,514h1v1h-1zM438,517h1v1h-1zM438,519h1v1h-1zM438,520h1v1h-1zM438,521h1v1h-1zM438,526h1v1h-1zM438,532h1v1h-1zM439,435h1v1h-1zM439,436h1v1h-1zM439,449h1v1h-1zM439,452h1v1h-1zM439,457h1v1h-1zM439,458h1v1h-1zM439,463h1v1h-1zM439,468h1v1h-1zM439,470h1v1h-1zM439,471h1v1h-1zM439,510h1v1h-1zM439,511h1v1h-1zM439,513h1v1h-1zM439,521h1v1h-1zM439,528h1v1h-1zM439,531h1v1h-1zM439,533h1v1h-1zM440,422h1v1h-1zM440,424h1v1h-1zM440,431h1v1h-1zM440,432h1v1h-1zM440,456h1v1h-1zM440,459h1v1h-1zM440,461h1v1h-1zM440,467h1v1h-1zM440,468h1v1h-1zM440,469h1v1h-1zM440,508h1v1h-1zM440,509h1v1h-1zM440,514h1v1h-1zM440,515h1v1h-1zM440,516h1v1h-1zM440,521h1v1h-1zM440,524h1v1h-1zM440,526h1v1h-1zM440,527h1v1h-1zM440,529h1v1h-1zM440,530h1v1h-1zM440,532h1v1h-1zM440,535h1v1h-1zM441,417h1v1h-1zM441,421h1v1h-1zM441,423h1v1h-1zM441,424h1v1h-1zM441,425h1v1h-1zM441,426h1v1h-1zM441,429h1v1h-1zM441,461h1v1h-1zM441,462h1v1h-1zM441,463h1v1h-1zM441,470h1v1h-1zM441,509h1v1h-1zM441,510h1v1h-1zM441,511h1v1h-1zM441,516h1v1h-1zM441,519h1v1h-1zM441,522h1v1h-1zM441,524h1v1h-1zM441,526h1v1h-1zM442,421h1v1h-1zM442,422h1v1h-1zM442,426h1v1h-1zM442,429h1v1h-1zM442,462h1v1h-1zM442,463h1v1h-1zM442,464h1v1h-1zM442,465h1v1h-1zM442,466h1v1h-1zM442,468h1v1h-1zM442,469h1v1h-1zM442,471h1v1h-1zM442,472h1v1h-1zM442,478h1v1h-1zM442,510h1v1h-1zM442,515h1v1h-1zM442,520h1v1h-1zM442,521h1v1h-1zM442,524h1v1h-1zM442,526h1v1h-1zM442,527h1v1h-1zM442,529h1v1h-1zM442,530h1v1h-1zM443,423h1v1h-1zM443,465h1v1h-1zM443,466h1v1h-1zM443,467h1v1h-1zM443,468h1v1h-1zM443,469h1v1h-1zM443,510h1v1h-1zM443,511h1v1h-1zM443,514h1v1h-1zM443,516h1v1h-1zM443,517h1v1h-1zM443,523h1v1h-1zM443,527h1v1h-1zM443,533h1v1h-1zM443,534h1v1h-1zM444,415h1v1h-1zM444,419h1v1h-1zM444,421h1v1h-1zM444,423h1v1h-1zM444,468h1v1h-1zM444,469h1v1h-1zM444,471h1v1h-1zM444,472h1v1h-1zM444,511h1v1h-1zM444,512h1v1h-1zM444,513h1v1h-1zM444,514h1v1h-1zM444,515h1v1h-1zM444,516h1v1h-1zM444,517h1v1h-1zM444,521h1v1h-1zM444,522h1v1h-1zM444,525h1v1h-1zM444,529h1v1h-1zM445,416h1v1h-1zM445,422h1v1h-1zM445,471h1v1h-1zM445,472h1v1h-1zM445,476h1v1h-1zM445,477h1v1h-1zM445,478h1v1h-1zM445,479h1v1h-1zM445,481h1v1h-1zM445,512h1v1h-1zM445,513h1v1h-1zM445,516h1v1h-1zM445,517h1v1h-1zM445,518h1v1h-1zM445,519h1v1h-1zM445,520h1v1h-1zM445,522h1v1h-1zM445,524h1v1h-1zM445,526h1v1h-1zM445,527h1v1h-1zM445,528h1v1h-1zM445,530h1v1h-1zM445,532h1v1h-1zM446,417h1v1h-1zM446,473h1v1h-1zM446,474h1v1h-1zM446,475h1v1h-1zM446,478h1v1h-1zM446,485h1v1h-1zM446,508h1v1h-1zM446,509h1v1h-1zM446,510h1v1h-1zM446,512h1v1h-1zM446,513h1v1h-1zM446,522h1v1h-1zM446,524h1v1h-1zM446,525h1v1h-1zM446,526h1v1h-1zM446,529h1v1h-1zM446,530h1v1h-1zM446,532h1v1h-1zM447,411h1v1h-1zM447,416h1v1h-1zM447,475h1v1h-1zM447,477h1v1h-1zM447,478h1v1h-1zM447,486h1v1h-1zM447,510h1v1h-1zM447,516h1v1h-1zM447,517h1v1h-1zM447,521h1v1h-1zM447,523h1v1h-1zM447,527h1v1h-1zM447,528h1v1h-1zM447,531h1v1h-1zM447,532h1v1h-1zM447,535h1v1h-1zM448,409h1v1h-1zM448,410h1v1h-1zM448,414h1v1h-1zM448,416h1v1h-1zM448,417h1v1h-1zM448,477h1v1h-1zM448,478h1v1h-1zM448,479h1v1h-1zM448,485h1v1h-1zM448,486h1v1h-1zM448,510h1v1h-1zM448,511h1v1h-1zM448,512h1v1h-1zM448,513h1v1h-1zM448,514h1v1h-1zM448,522h1v1h-1zM448,527h1v1h-1zM448,530h1v1h-1zM448,535h1v1h-1zM449,411h1v1h-1zM449,414h1v1h-1zM449,482h1v1h-1zM449,485h1v1h-1zM449,487h1v1h-1zM449,489h1v1h-1zM449,490h1v1h-1zM449,509h1v1h-1zM449,511h1v1h-1zM449,515h1v1h-1zM449,516h1v1h-1zM449,518h1v1h-1zM449,520h1v1h-1zM449,522h1v1h-1zM449,523h1v1h-1zM449,525h1v1h-1zM449,527h1v1h-1zM449,528h1v1h-1zM449,533h1v1h-1zM450,413h1v1h-1zM450,419h1v1h-1zM450,480h1v1h-1zM450,481h1v1h-1zM450,482h1v1h-1zM450,483h1v1h-1zM450,489h1v1h-1zM450,511h1v1h-1zM450,512h1v1h-1zM450,517h1v1h-1zM450,523h1v1h-1zM450,526h1v1h-1zM450,533h1v1h-1zM451,409h1v1h-1zM451,414h1v1h-1zM451,415h1v1h-1zM451,482h1v1h-1zM451,484h1v1h-1zM451,494h1v1h-1zM451,501h1v1h-1zM451,512h1v1h-1zM451,513h1v1h-1zM451,516h1v1h-1zM451,524h1v1h-1zM451,525h1v1h-1zM451,526h1v1h-1zM451,528h1v1h-1zM452,407h1v1h-1zM452,483h1v1h-1zM452,485h1v1h-1zM452,486h1v1h-1zM452,487h1v1h-1zM452,488h1v1h-1zM452,490h1v1h-1zM452,491h1v1h-1zM452,494h1v1h-1zM452,495h1v1h-1zM452,498h1v1h-1zM452,500h1v1h-1zM453,408h1v1h-1zM453,485h1v1h-1zM453,486h1v1h-1zM453,487h1v1h-1zM453,489h1v1h-1zM453,490h1v1h-1zM453,491h1v1h-1zM453,492h1v1h-1zM453,495h1v1h-1zM453,497h1v1h-1zM453,498h1v1h-1zM453,499h1v1h-1zM453,500h1v1h-1zM453,501h1v1h-1zM454,408h1v1h-1zM454,411h1v1h-1zM454,415h1v1h-1zM454,486h1v1h-1zM454,487h1v1h-1zM454,488h1v1h-1zM454,489h1v1h-1zM454,491h1v1h-1zM454,495h1v1h-1zM454,499h1v1h-1zM454,500h1v1h-1zM454,501h1v1h-1zM454,506h1v1h-1zM455,411h1v1h-1zM455,412h1v1h-1zM455,487h1v1h-1zM455,488h1v1h-1zM455,492h1v1h-1zM455,493h1v1h-1zM455,494h1v1h-1zM455,495h1v1h-1zM455,496h1v1h-1zM455,498h1v1h-1zM455,501h1v1h-1zM455,502h1v1h-1zM455,507h1v1h-1zM456,493h1v1h-1zM456,494h1v1h-1zM456,495h1v1h-1zM456,496h1v1h-1zM456,498h1v1h-1zM456,502h1v1h-1zM456,503h1v1h-1zM456,504h1v1h-1zM456,505h1v1h-1zM456,506h1v1h-1zM456,508h1v1h-1zM456,510h1v1h-1zM457,403h1v1h-1zM457,413h1v1h-1zM457,498h1v1h-1zM457,499h1v1h-1zM457,500h1v1h-1zM457,501h1v1h-1zM457,502h1v1h-1zM457,503h1v1h-1zM457,504h1v1h-1zM457,505h1v1h-1zM457,506h1v1h-1zM457,511h1v1h-1zM458,412h1v1h-1zM458,499h1v1h-1zM458,500h1v1h-1zM458,501h1v1h-1zM458,507h1v1h-1zM458,508h1v1h-1zM458,509h1v1h-1zM458,510h1v1h-1zM458,515h1v1h-1zM458,516h1v1h-1zM459,404h1v1h-1zM459,502h1v1h-1zM459,503h1v1h-1zM459,504h1v1h-1zM459,505h1v1h-1zM459,506h1v1h-1zM459,507h1v1h-1zM459,508h1v1h-1zM459,509h1v1h-1zM459,510h1v1h-1zM459,514h1v1h-1zM459,515h1v1h-1zM459,517h1v1h-1zM460,402h1v1h-1zM460,403h1v1h-1zM460,407h1v1h-1zM460,408h1v1h-1zM460,409h1v1h-1zM460,504h1v1h-1zM460,506h1v1h-1zM460,507h1v1h-1zM460,510h1v1h-1zM460,513h1v1h-1zM460,514h1v1h-1zM460,516h1v1h-1zM460,517h1v1h-1zM460,518h1v1h-1zM460,519h1v1h-1zM461,403h1v1h-1zM461,404h1v1h-1zM461,406h1v1h-1zM461,409h1v1h-1zM461,410h1v1h-1zM461,508h1v1h-1zM461,509h1v1h-1zM461,511h1v1h-1zM461,512h1v1h-1zM461,513h1v1h-1zM461,517h1v1h-1zM462,406h1v1h-1zM462,408h1v1h-1zM462,410h1v1h-1zM462,510h1v1h-1zM462,512h1v1h-1zM462,513h1v1h-1zM462,514h1v1h-1zM462,516h1v1h-1zM463,403h1v1h-1zM463,405h1v1h-1zM463,407h1v1h-1zM463,408h1v1h-1zM463,409h1v1h-1zM463,512h1v1h-1zM463,516h1v1h-1zM463,517h1v1h-1zM464,398h1v1h-1zM464,402h1v1h-1zM464,403h1v1h-1zM464,408h1v1h-1zM464,409h1v1h-1zM464,516h1v1h-1zM465,402h1v1h-1zM465,408h1v1h-1zM466,403h1v1h-1zM466,407h1v1h-1zM468,404h1v1h-1zM469,403h1v1h-1zM469,405h1v1h-1zM470,396h1v1h-1zM470,400h1v1h-1zM471,402h1v1h-1zM471,403h1v1h-1zM473,394h1v1h-1zM473,402h1v1h-1zM474,394h1v1h-1zM474,399h1v1h-1zM474,401h1v1h-1zM475,396h1v1h-1zM475,398h1v1h-1zM475,399h1v1h-1zM475,400h1v1h-1zM475,401h1v1h-1zM477,398h1v1h-1zM477,399h1v1h-1zM478,394h1v1h-1zM479,392h1v1h-1zM479,396h1v1h-1zM480,391h1v1h-1zM480,395h1v1h-1zM480,396h1v1h-1zM481,394h1v1h-1zM482,381h1v1h-1zM482,386h1v1h-1zM482,390h1v1h-1zM483,380h1v1h-1zM483,383h1v1h-1zM483,384h1v1h-1zM484,386h1v1h-1zM484,391h1v1h-1zM485,385h1v1h-1zM486,385h1v1h-1zM488,387h1v1h-1zM489,376h1v1h-1zM489,380h1v1h-1zM489,387h1v1h-1zM490,386h1v1h-1zM490,387h1v1h-1zM493,377h1v1h-1zM494,379h1v1h-1zM494,383h1v1h-1zM495,382h1v1h-1zM495,384h1v1h-1zM496,382h1v1h-1zM496,384h1v1h-1zM497,378h1v1h-1zM498,377h1v1h-1zM498,378h1v1h-1zM499,376h1v1h-1zM499,378h1v1h-1zM499,381h1v1h-1zM499,382h1v1h-1zM500,376h1v1h-1zM500,377h1v1h-1zM500,379h1v1h-1zM500,382h1v1h-1zM500,383h1v1h-1zM501,372h1v1h-1zM501,378h1v1h-1zM501,379h1v1h-1zM501,382h1v1h-1zM501,383h1v1h-1zM502,378h1v1h-1zM502,379h1v1h-1zM503,383h1v1h-1zM504,376h1v1h-1zM504,377h1v1h-1zM505,343h1v1h-1zM505,373h1v1h-1zM506,356h1v1h-1zM506,359h1v1h-1zM506,368h1v1h-1zM506,373h1v1h-1zM507,372h1v1h-1zM507,377h1v1h-1zM508,347h1v1h-1zM508,351h1v1h-1zM508,355h1v1h-1zM508,366h1v1h-1zM508,367h1v1h-1zM508,368h1v1h-1zM508,370h1v1h-1zM509,366h1v1h-1zM510,343h1v1h-1zM510,357h1v1h-1zM510,362h1v1h-1zM510,371h1v1h-1zM510,372h1v1h-1zM511,355h1v1h-1zM511,360h1v1h-1zM511,369h1v1h-1zM512,335h1v1h-1zM512,341h1v1h-1zM512,344h1v1h-1zM512,355h1v1h-1zM512,361h1v1h-1zM512,374h1v1h-1zM513,343h1v1h-1zM513,345h1v1h-1zM513,349h1v1h-1zM513,364h1v1h-1zM513,366h1v1h-1zM513,373h1v1h-1zM514,348h1v1h-1zM514,350h1v1h-1zM514,359h1v1h-1zM515,360h1v1h-1zM515,364h1v1h-1zM515,366h1v1h-1zM516,345h1v1h-1zM516,350h1v1h-1zM516,362h1v1h-1zM516,363h1v1h-1zM516,368h1v1h-1zM516,369h1v1h-1zM516,370h1v1h-1zM517,338h1v1h-1zM517,358h1v1h-1zM517,362h1v1h-1zM517,363h1v1h-1zM517,366h1v1h-1zM517,368h1v1h-1zM517,371h1v1h-1zM518,338h1v1h-1zM518,346h1v1h-1zM518,351h1v1h-1zM518,352h1v1h-1zM518,355h1v1h-1zM518,356h1v1h-1zM518,368h1v1h-1zM519,344h1v1h-1zM519,351h1v1h-1zM519,367h1v1h-1zM520,369h1v1h-1zM520,370h1v1h-1zM521,345h1v1h-1zM521,347h1v1h-1zM521,352h1v1h-1zM521,353h1v1h-1zM521,362h1v1h-1zM522,351h1v1h-1zM522,360h1v1h-1zM522,363h1v1h-1zM523,340h1v1h-1zM523,346h1v1h-1zM523,350h1v1h-1zM523,361h1v1h-1zM523,366h1v1h-1zM524,339h1v1h-1zM524,357h1v1h-1zM524,364h1v1h-1zM524,365h1v1h-1zM525,335h1v1h-1zM525,338h1v1h-1zM525,359h1v1h-1zM525,363h1v1h-1zM525,370h1v1h-1zM526,366h1v1h-1zM527,364h1v1h-1zM527,366h1v1h-1zM528,337h1v1h-1zM528,347h1v1h-1zM528,349h1v1h-1zM528,354h1v1h-1zM528,360h1v1h-1zM528,365h1v1h-1zM528,368h1v1h-1zM529,342h1v1h-1zM529,348h1v1h-1zM529,353h1v1h-1zM529,354h1v1h-1zM529,357h1v1h-1zM529,362h1v1h-1zM529,367h1v1h-1zM529,368h1v1h-1zM530,339h1v1h-1zM530,349h1v1h-1zM530,361h1v1h-1zM530,367h1v1h-1zM531,358h1v1h-1zM531,369h1v1h-1zM531,370h1v1h-1zM532,332h1v1h-1zM532,352h1v1h-1zM532,359h1v1h-1zM532,368h1v1h-1zM533,328h1v1h-1zM533,340h1v1h-1zM533,367h1v1h-1zM533,368h1v1h-1zM534,367h1v1h-1zM535,323h1v1h-1zM535,367h1v1h-1zM536,347h1v1h-1zM537,332h1v1h-1zM537,333h1v1h-1zM537,347h1v1h-1zM537,364h1v1h-1zM538,332h1v1h-1zM538,338h1v1h-1zM538,350h1v1h-1zM538,351h1v1h-1zM539,338h1v1h-1zM539,350h1v1h-1zM540,331h1v1h-1zM540,336h1v1h-1zM540,337h1v1h-1zM542,336h1v1h-1zM542,338h1v1h-1zM542,341h1v1h-1zM542,353h1v1h-1zM543,321h1v1h-1zM543,336h1v1h-1zM543,337h1v1h-1zM543,339h1v1h-1zM543,342h1v1h-1zM543,351h1v1h-1zM543,352h1v1h-1zM544,337h1v1h-1zM544,340h1v1h-1zM544,344h1v1h-1zM544,351h1v1h-1zM544,352h1v1h-1zM545,272h1v1h-1zM545,282h1v1h-1zM545,341h1v1h-1zM545,343h1v1h-1zM545,345h1v1h-1zM546,271h1v1h-1zM547,346h1v1h-1zM548,283h1v1h-1zM548,294h1v1h-1zM548,295h1v1h-1zM548,312h1v1h-1zM549,295h1v1h-1zM551,288h1v1h-1zM551,307h1v1h-1zM552,281h1v1h-1zM552,301h1v1h-1zM553,279h1v1h-1zM554,298h1v1h-1zM555,278h1v1h-1zM555,281h1v1h-1zM556,278h1v1h-1zM556,296h1v1h-1zM557,299h1v1h-1zM558,295h1v1h-1zM560,284h1v1h-1zM561,279h1v1h-1zM562,278h1v1h-1zM565,282h1v1h-1zM569,273h1v1h-1zM569,274h1v1h-1zM569,275h1v1h-1zM570,273h1v1h-1zM572,256h1v1h-1zM572,257h1v1h-1zM572,274h1v1h-1zM572,278h1v1h-1zM573,258h1v1h-1zM573,273h1v1h-1zM578,256h1v1h-1zM585,250h1v1h-1zM598,246h1v1h-1zM603,245h1v1h-1zM604,244h1v1h-1zM604,245h1v1h-1zM609,243h1v1h-1zM609,244h1v1h-1zM610,245h1v1h-1zM617,238h1v1h-1zM617,239h1v1h-1zM625,241h1v1h-1zM626,240h1v1h-1zM626,241h1v1h-1zM629,239h1v1h-1zM630,240h1v1h-1zM631,240h1v1h-1zM635,222h1v1h-1zM636,216h1v1h-1zM636,223h1v1h-1zM637,215h1v1h-1zM637,219h1v1h-1zM637,234h1v1h-1zM638,214h1v1h-1zM638,222h1v1h-1zM639,222h1v1h-1zM639,236h1v1h-1zM640,210h1v1h-1zM640,211h1v1h-1zM640,212h1v1h-1zM640,236h1v1h-1zM640,237h1v1h-1zM641,211h1v1h-1zM642,206h1v1h-1zM646,240h1v1h-1zM649,201h1v1h-1zM650,232h1v1h-1zM654,197h1v1h-1zM655,197h1v1h-1zM656,197h1v1h-1zM657,197h1v1h-1zM664,194h1v1h-1zM666,194h1v1h-1zM666,195h1v1h-1zM667,193h1v1h-1zM670,192h1v1h-1zM671,186h1v1h-1zM677,185h1v1h-1zM677,186h1v1h-1zM682,188h1v1h-1zM683,187h1v1h-1zM684,188h1v1h-1zM687,184h1v1h-1zM687,186h1v1h-1zM688,185h1v1h-1zM688,186h1v1h-1zM693,184h1v1h-1zM693,185h1v1h-1zM696,184h1v1h-1zM703,178h1v1h-1zM704,179h1v1h-1zM708,178h1v1h-1zM709,177h1v1h-1zM709,178h1v1h-1zM711,173h1v1h-1zM715,175h1v1h-1zM716,174h1v1h-1zM717,175h1v1h-1z"/>
<path fill="#FFA000" d="M142,501h1v1h-1zM150,490h1v1h-1zM151,489h1v1h-1zM151,492h1v1h-1zM153,491h1v1h-1zM163,482h1v1h-1zM174,473h1v1h-1zM175,474h1v1h-1zM189,466h1v1h-1zM189,467h1v1h-1zM207,463h1v1h-1zM214,460h1v1h-1zM218,459h1v1h-1zM225,456h1v1h-1zM225,459h1v1h-1zM226,455h1v1h-1zM228,462h1v1h-1zM251,464h1v1h-1zM252,463h1v1h-1zM253,459h1v1h-1zM253,460h1v1h-1zM254,459h1v1h-1zM259,468h1v1h-1zM260,464h1v1h-1zM261,466h1v1h-1zM269,468h1v1h-1zM278,461h1v1h-1zM279,461h1v1h-1zM279,462h1v1h-1zM290,463h1v1h-1zM290,464h1v1h-1zM294,451h1v1h-1zM295,469h1v1h-1zM296,468h1v1h-1zM435,437h1v1h-1zM436,426h1v1h-1zM436,442h1v1h-1zM436,443h1v1h-1zM437,443h1v1h-1zM440,435h1v1h-1zM441,421h1v1h-1zM451,410h1v1h-1zM451,411h1v1h-1zM453,416h1v1h-1zM462,410h1v1h-1zM465,406h1v1h-1zM467,406h1v1h-1zM472,401h1v1h-1zM473,396h1v1h-1zM476,395h1v1h-1zM479,395h1v1h-1zM479,396h1v1h-1zM483,387h1v1h-1zM485,388h1v1h-1zM496,375h1v1h-1zM505,377h1v1h-1zM506,376h1v1h-1zM517,372h1v1h-1zM518,371h1v1h-1zM529,369h1v1h-1zM530,363h1v1h-1zM530,370h1v1h-1zM548,311h1v1h-1zM549,311h1v1h-1zM553,290h1v1h-1zM553,291h1v1h-1zM553,292h1v1h-1zM556,303h1v1h-1zM563,286h1v1h-1zM565,282h1v1h-1zM570,265h1v1h-1zM571,266h1v1h-1zM572,272h1v1h-1zM573,266h1v1h-1zM574,265h1v1h-1zM574,269h1v1h-1zM574,270h1v1h-1zM578,247h1v1h-1z"/>
<path fill="#FFFF00" d="M134,556h1v1h-1zM135,555h1v1h-1zM135,556h1v1h-1zM137,541h1v1h-1zM137,544h1v1h-1zM138,541h1v1h-1zM139,517h1v1h-1zM139,520h1v1h-1zM139,521h1v1h-1zM139,541h1v1h-1zM140,518h1v1h-1zM140,531h1v1h-1zM140,535h1v1h-1zM141,504h1v1h-1zM141,506h1v1h-1zM141,531h1v1h-1zM141,534h1v1h-1zM142,540h1v1h-1zM146,497h1v1h-1zM156,483h1v1h-1zM157,483h1v1h-1zM164,479h1v1h-1zM172,480h1v1h-1zM183,471h1v1h-1zM190,467h1v1h-1zM195,465h1v1h-1zM212,461h1v1h-1zM221,457h1v1h-1zM224,461h1v1h-1zM225,462h1v1h-1zM240,457h1v1h-1zM241,458h1v1h-1zM243,459h1v1h-1zM243,461h1v1h-1zM245,461h1v1h-1zM245,462h1v1h-1zM258,468h1v1h-1zM259,468h1v1h-1zM260,467h1v1h-1zM266,467h1v1h-1zM266,469h1v1h-1zM267,466h1v1h-1zM267,469h1v1h-1zM292,462h1v1h-1zM293,461h1v1h-1zM293,470h1v1h-1zM296,467h1v1h-1zM296,468h1v1h-1zM298,449h1v1h-1zM298,451h1v1h-1zM299,450h1v1h-1zM435,432h1v1h-1zM437,444h1v1h-1zM438,425h1v1h-1zM441,424h1v1h-1zM442,425h1v1h-1zM442,426h1v1h-1zM443,425h1v1h-1zM444,415h1v1h-1zM445,414h1v1h-1zM452,417h1v1h-1zM453,416h1v1h-1zM454,415h1v1h-1zM462,408h1v1h-1zM466,402h1v1h-1zM467,401h1v1h-1zM468,401h1v1h-1zM472,402h1v1h-1zM473,395h1v1h-1zM473,396h1v1h-1zM536,350h1v1h-1zM541,329h1v1h-1zM547,346h1v1h-1z"/>
<path fill="#FFD000" d="M206,461h1v1h-1zM209,461h1v1h-1zM216,461h1v1h-1zM216,462h1v1h-1zM217,462h1v1h-1zM218,456h1v1h-1zM231,460h1v1h-1zM231,461h1v1h-1zM231,462h1v1h-1zM232,462h1v1h-1zM235,457h1v1h-1zM236,460h1v1h-1zM237,461h1v1h-1zM243,457h1v1h-1zM243,458h1v1h-1zM247,459h1v1h-1zM248,458h1v1h-1zM249,462h1v1h-1zM250,461h1v1h-1zM251,464h1v1h-1zM252,464h1v1h-1zM253,464h1v1h-1zM262,465h1v1h-1zM262,466h1v1h-1zM266,467h1v1h-1zM267,466h1v1h-1zM268,469h1v1h-1zM273,463h1v1h-1zM276,467h1v1h-1zM277,461h1v1h-1zM280,462h1v1h-1zM280,465h1v1h-1zM281,462h1v1h-1zM282,463h1v1h-1zM289,456h1v1h-1zM291,461h1v1h-1zM291,462h1v1h-1zM292,462h1v1h-1zM292,463h1v1h-1zM294,449h1v1h-1zM295,448h1v1h-1zM295,449h1v1h-1zM296,449h1v1h-1z"/>
<path fill="#D3D3D3" d="M240,440h1v1h-1zM240,444h1v1h-1zM240,447h1v1h-1zM241,440h1v1h-1zM242,453h1v1h-1zM242,458h1v1h-1zM243,440h1v1h-1zM243,449h1v1h-1zM244,459h1v1h-1zM245,440h1v1h-1zM245,444h1v1h-1zM245,451h1v1h-1zM246,448h1v1h-1zM246,449h1v1h-1zM246,452h1v1h-1zM246,453h1v1h-1zM246,454h1v1h-1zM246,461h1v1h-1zM248,451h1v1h-1zM249,445h1v1h-1zM249,448h1v1h-1zM251,446h1v1h-1zM251,449h1v1h-1zM251,451h1v1h-1zM251,459h1v1h-1zM252,445h1v1h-1zM252,446h1v1h-1zM252,448h1v1h-1zM253,441h1v1h-1zM253,442h1v1h-1zM253,448h1v1h-1zM253,458h1v1h-1zM254,442h1v1h-1zM254,447h1v1h-1zM254,453h1v1h-1zM254,454h1v1h-1zM255,444h1v1h-1zM255,461h1v1h-1zM436,512h1v1h-1zM436,514h1v1h-1zM436,515h1v1h-1zM436,520h1v1h-1zM436,528h1v1h-1zM437,513h1v1h-1zM437,525h1v1h-1zM437,526h1v1h-1zM437,533h1v1h-1zM437,534h1v1h-1zM438,520h1v1h-1zM438,523h1v1h-1zM438,527h1v1h-1zM438,529h1v1h-1zM438,533h1v1h-1zM439,511h1v1h-1zM439,515h1v1h-1zM439,516h1v1h-1zM439,520h1v1h-1zM439,521h1v1h-1zM439,527h1v1h-1zM440,518h1v1h-1zM441,511h1v1h-1zM441,515h1v1h-1zM441,521h1v1h-1zM441,524h1v1h-1zM441,525h1v1h-1zM441,530h1v1h-1zM442,509h1v1h-1zM442,511h1v1h-1zM442,514h1v1h-1zM442,520h1v1h-1zM442,524h1v1h-1zM443,513h1v1h-1zM443,530h1v1h-1zM444,523h1v1h-1zM444,527h1v1h-1zM444,531h1v1h-1zM445,520h1v1h-1zM445,523h1v1h-1zM445,531h1v1h-1zM445,534h1v1h-1zM445,535h1v1h-1zM446,524h1v1h-1zM446,528h1v1h-1zM447,509h1v1h-1zM447,511h1v1h-1zM447,521h1v1h-1zM447,522h1v1h-1zM447,526h1v1h-1zM448,523h1v1h-1zM449,512h1v1h-1zM449,514h1v1h-1zM449,519h1v1h-1zM449,521h1v1h-1zM449,522h1v1h-1zM449,529h1v1h-1zM450,509h1v1h-1zM450,513h1v1h-1zM450,524h1v1h-1zM450,529h1v1h-1zM451,518h1v1h-1zM451,534h1v1h-1zM451,535h1v1h-1zM452,515h1v1h-1zM452,522h1v1h-1zM452,527h1v1h-1zM452,535h1v1h-1zM453,531h1v1h-1zM453,533h1v1h-1zM454,520h1v1h-1zM455,521h1v1h-1zM455,523h1v1h-1zM455,534h1v1h-1zM456,509h1v1h-1zM456,520h1v1h-1zM456,521h1v1h-1zM456,524h1v1h-1zM456,525h1v1h-1zM457,512h1v1h-1zM457,513h1v1h-1zM457,521h1v1h-1zM457,523h1v1h-1zM457,526h1v1h-1zM458,510h1v1h-1zM458,512h1v1h-1zM458,518h1v1h-1zM458,528h1v1h-1zM458,530h1v1h-1zM458,534h1v1h-1zM459,509h1v1h-1zM459,512h1v1h-1zM459,527h1v1h-1zM460,510h1v1h-1zM460,511h1v1h-1zM460,524h1v1h-1zM460,535h1v1h-1zM461,518h1v1h-1zM461,525h1v1h-1zM461,533h1v1h-1zM462,510h1v1h-1zM462,521h1v1h-1zM462,524h1v1h-1zM462,525h1v1h-1zM462,526h1v1h-1zM462,534h1v1h-1zM462,535h1v1h-1zM463,510h1v1h-1zM463,512h1v1h-1zM463,515h1v1h-1zM463,518h1v1h-1zM463,519h1v1h-1zM463,528h1v1h-1z"/>
<path fill="#FFFFFF" d="M209,460h1v1h-1zM209,463h1v1h-1zM211,461h1v1h-1zM218,460h1v1h-1zM221,461h1v1h-1zM224,461h1v1h-1zM227,462h1v1h-1zM228,460h1v1h-1zM228,461h1v1h-1zM229,462h1v1h-1zM230,460h1v1h-1zM231,459h1v1h-1zM232,461h1v1h-1zM233,459h1v1h-1zM236,459h1v1h-1zM237,461h1v1h-1zM240,459h1v1h-1zM244,460h1v1h-1zM246,460h1v1h-1zM247,461h1v1h-1zM247,462h1v1h-1zM247,463h1v1h-1zM251,462h1v1h-1zM254,463h1v1h-1zM255,464h1v1h-1zM256,467h1v1h-1zM258,468h1v1h-1zM260,467h1v1h-1zM261,467h1v1h-1zM264,469h1v1h-1zM266,469h1v1h-1zM268,467h1v1h-1zM269,470h1v1h-1zM270,467h1v1h-1zM271,467h1v1h-1zM273,467h1v1h-1zM274,466h1v1h-1zM275,467h1v1h-1zM276,466h1v1h-1zM276,468h1v1h-1zM280,464h1v1h-1zM280,465h1v1h-1zM282,462h1v1h-1zM282,465h1v1h-1zM284,464h1v1h-1zM290,470h1v1h-1zM291,468h1v1h-1zM291,470h1v1h-1zM295,471h1v1h-1z"/>
</g>
<rect x="129.5" y="162.2" width="710.5" height="697.8" fill="none" stroke="#000" stroke-width="1.1"/>
<text x="98.5" y="840.7" font-size="23" text-anchor="end">10°N</text>
<text x="98.5" y="747.1" font-size="23" text-anchor="end">15°N</text>
<text x="98.5" y="653.5" font-size="23" text-anchor="end">20°N</text>
<text x="98.5" y="559.9" font-size="23" text-anchor="end">25°N</text>
<text x="98.5" y="466.3" font-size="23" text-anchor="end">30°N</text>
<text x="98.5" y="372.8" font-size="23" text-anchor="end">35°N</text>
<text x="98.5" y="279.2" font-size="23" text-anchor="end">40°N</text>
<text x="98.5" y="185.6" font-size="23" text-anchor="end">45°N</text>
<text x="184.8" y="909.8" font-size="23" text-anchor="middle">95°W</text>
<text x="278.4" y="909.8" font-size="23" text-anchor="middle">90°W</text>
<text x="372.0" y="909.8" font-size="23" text-anchor="middle">85°W</text>
<text x="465.6" y="909.8" font-size="23" text-anchor="middle">80°W</text>
<text x="559.1" y="909.8" font-size="23" text-anchor="middle">75°W</text>
<text x="652.8" y="909.8" font-size="23" text-anchor="middle">70°W</text>
<text x="746.4" y="909.8" font-size="23" text-anchor="middle">65°W</text>
<path d="M112.5,832.4H129.5M112.5,738.8H129.5M112.5,645.2H129.5M112.5,551.6H129.5M112.5,458.0H129.5M112.5,364.5H129.5M112.5,270.9H129.5M112.5,177.3H129.5M185.7,860.0V877.0M279.2,860.0V877.0M372.9,860.0V877.0M466.5,860.0V877.0M560.0,860.0V877.0M653.6,860.0V877.0M747.2,860.0V877.0" stroke="#000" stroke-width="1.0" fill="none"/>
<text x="484.3" y="944.6" font-size="23" text-anchor="middle">Longitude</text>
<text transform="translate(41.1,511) rotate(-90)" font-size="23" text-anchor="middle">Latitude</text>
<text x="162.8" y="133.7" font-size="25.8">2021031418</text>
<text x="656" y="129" font-size="25.8">Elevation (m)</text>
<rect x="878.5" y="169.50" width="42.5" height="31.37" fill="#8B0000" shape-rendering="crispEdges"/>
<rect x="878.5" y="200.57" width="42.5" height="31.37" fill="#B40000" shape-rendering="crispEdges"/>
<rect x="878.5" y="231.64" width="42.5" height="31.37" fill="#E10000" shape-rendering="crispEdges"/>
<rect x="878.5" y="262.71" width="42.5" height="31.37" fill="#FF1500" shape-rendering="crispEdges"/>
<rect x="878.5" y="293.78" width="42.5" height="31.37" fill="#FF4500" shape-rendering="crispEdges"/>
<rect x="878.5" y="324.85" width="42.5" height="31.37" fill="#FF7300" shape-rendering="crispEdges"/>
<rect x="878.5" y="355.92" width="42.5" height="31.37" fill="#FFA000" shape-rendering="crispEdges"/>
<rect x="878.5" y="386.99" width="42.5" height="31.37" fill="#FFD000" shape-rendering="crispEdges"/>
<rect x="878.5" y="418.06" width="42.5" height="31.37" fill="#FFFF00" shape-rendering="crispEdges"/>
<rect x="878.5" y="449.13" width="42.5" height="31.37" fill="#D8FF27" shape-rendering="crispEdges"/>
<rect x="878.5" y="480.20" width="42.5" height="31.37" fill="#A8FF57" shape-rendering="crispEdges"/>
<rect x="878.5" y="511.27" width="42.5" height="31.37" fill="#7CFF83" shape-rendering="crispEdges"/>
<rect x="878.5" y="542.34" width="42.5" height="31.37" fill="#50FFAF" shape-rendering="crispEdges"/>
<rect x="878.5" y="573.41" width="42.5" height="31.37" fill="#22FFDD" shape-rendering="crispEdges"/>
<rect x="878.5" y="604.48" width="42.5" height="31.37" fill="#00F2FF" shape-rendering="crispEdges"/>
<rect x="878.5" y="635.55" width="42.5" height="31.37" fill="#00C0FF" shape-rendering="crispEdges"/>
<rect x="878.5" y="666.62" width="42.5" height="31.37" fill="#0093FF" shape-rendering="crispEdges"/>
<rect x="878.5" y="697.69" width="42.5" height="31.37" fill="#0060FF" shape-rendering="crispEdges"/>
<rect x="878.5" y="728.76" width="42.5" height="31.37" fill="#0030FF" shape-rendering="crispEdges"/>
<rect x="878.5" y="759.83" width="42.5" height="31.37" fill="#0000FF" shape-rendering="crispEdges"/>
<rect x="878.5" y="790.90" width="42.5" height="31.37" fill="#0000D2" shape-rendering="crispEdges"/>
<rect x="878.5" y="821.97" width="42.5" height="31.37" fill="#0000AA" shape-rendering="crispEdges"/>
<path d="M878.5,200.57H921.0M878.5,231.64H921.0M878.5,262.71H921.0M878.5,293.78H921.0M878.5,324.85H921.0M878.5,355.92H921.0M878.5,386.99H921.0M878.5,418.06H921.0M878.5,449.13H921.0M878.5,480.20H921.0M878.5,511.27H921.0M878.5,542.34H921.0M878.5,573.41H921.0M878.5,604.48H921.0M878.5,635.55H921.0M878.5,666.62H921.0M878.5,697.69H921.0M878.5,728.76H921.0M878.5,759.83H921.0M878.5,790.90H921.0M878.5,821.97H921.0" stroke="#000" stroke-width="0.8" fill="none" opacity="0.85"/>
<rect x="878.5" y="169.5" width="42.5" height="683.54" fill="none" stroke="#000" stroke-width="0.6" opacity="0.6"/>
<text x="960" y="211.8" font-size="31.3" text-anchor="middle">2</text>
<text x="960" y="273.9" font-size="31.3" text-anchor="middle">1.6</text>
<text x="960" y="336.1" font-size="31.3" text-anchor="middle">1.2</text>
<text x="960" y="398.2" font-size="31.3" text-anchor="middle">0.8</text>
<text x="960" y="460.3" font-size="31.3" text-anchor="middle">0.4</text>
<text x="960" y="522.5" font-size="31.3" text-anchor="middle">0</text>
<text x="960" y="584.6" font-size="31.3" text-anchor="middle">-0.4</text>
<text x="960" y="646.8" font-size="31.3" text-anchor="middle">-0.8</text>
<text x="960" y="708.9" font-size="31.3" text-anchor="middle">-1.2</text>
<text x="960" y="771.0" font-size="31.3" text-anchor="middle">-1.6</text>
<text x="960" y="833.2" font-size="31.3" text-anchor="middle">-2</text>
</svg></body></html>
